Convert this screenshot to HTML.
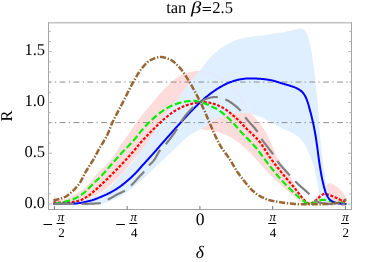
<!DOCTYPE html>
<html><head><meta charset="utf-8"><title>tan beta = 2.5</title>
<style>html,body{margin:0;padding:0;background:#fff;}body{width:374px;height:262px;overflow:hidden;font-family:"Liberation Serif",serif;}svg{display:block;will-change:transform;}</style></head>
<body>
<svg width="374" height="262" viewBox="0 0 374 262">
<rect width="374" height="262" fill="#fff"/>
<defs><clipPath id="c"><rect x="48.5" y="22.5" width="303" height="187"/></clipPath></defs>
<g clip-path="url(#c)" fill="none" stroke-linejoin="round">
<path d="M54.40,195.00 L55.13,196.35 L55.86,197.51 L56.59,198.38 L57.32,198.88 L58.05,199.27 L58.78,199.57 L59.51,199.76 L60.23,199.80 L60.96,199.76 L61.69,199.67 L62.42,199.55 L63.15,199.41 L63.88,199.25 L64.61,199.09 L65.34,198.92 L66.07,198.72 L66.80,198.49 L67.53,198.23 L68.26,197.94 L68.99,197.63 L69.72,197.29 L70.45,196.94 L71.17,196.57 L71.90,196.19 L72.63,195.80 L73.36,195.40 L74.09,195.00 L74.82,194.60 L75.55,194.19 L76.28,193.77 L77.01,193.33 L77.74,192.88 L78.47,192.41 L79.20,191.92 L79.93,191.42 L80.66,190.90 L81.38,190.36 L82.11,189.81 L82.84,189.25 L83.57,188.67 L84.30,188.08 L85.03,187.47 L85.76,186.84 L86.49,186.17 L87.22,185.46 L87.95,184.72 L88.68,183.96 L89.41,183.16 L90.14,182.34 L90.87,181.46 L91.60,180.50 L92.32,179.51 L93.05,178.51 L93.78,177.53 L94.51,176.59 L95.24,175.72 L95.97,174.89 L96.70,174.09 L97.43,173.32 L98.16,172.56 L98.89,171.81 L99.62,171.08 L100.35,170.35 L101.08,169.63 L101.81,168.94 L102.54,168.26 L103.26,167.60 L103.99,166.93 L104.72,166.26 L105.45,165.55 L106.18,164.81 L106.91,164.06 L107.64,163.29 L108.37,162.51 L109.10,161.71 L109.83,160.89 L110.56,160.04 L111.29,159.17 L112.02,158.27 L112.75,157.33 L113.48,156.35 L114.20,155.30 L114.93,154.18 L115.66,153.01 L116.39,151.82 L117.12,150.61 L117.85,149.40 L118.58,148.21 L119.31,147.05 L120.04,145.94 L120.77,144.87 L121.50,143.83 L122.23,142.80 L122.96,141.78 L123.69,140.77 L124.42,139.76 L125.14,138.76 L125.87,137.74 L126.60,136.71 L127.33,135.67 L128.06,134.63 L128.79,133.57 L129.52,132.51 L130.25,131.44 L130.98,130.37 L131.71,129.30 L132.44,128.23 L133.17,127.16 L133.90,126.09 L134.63,125.03 L135.35,123.98 L136.08,122.93 L136.81,121.89 L137.54,120.87 L138.27,119.86 L139.00,118.86 L139.73,117.88 L140.46,116.91 L141.19,115.97 L141.92,115.05 L142.65,114.15 L143.38,113.27 L144.11,112.41 L144.84,111.56 L145.57,110.73 L146.29,109.90 L147.02,109.07 L147.75,108.25 L148.48,107.42 L149.21,106.59 L149.94,105.74 L150.67,104.89 L151.40,104.02 L152.13,103.14 L152.86,102.24 L153.59,101.34 L154.32,100.44 L155.05,99.54 L155.78,98.64 L156.51,97.76 L157.23,96.89 L157.96,96.04 L158.69,95.21 L159.42,94.37 L160.15,93.55 L160.88,92.73 L161.61,91.92 L162.34,91.12 L163.07,90.33 L163.80,89.56 L164.53,88.79 L165.26,88.05 L165.99,87.31 L166.72,86.59 L167.45,85.87 L168.17,85.17 L168.90,84.46 L169.63,83.78 L170.36,83.10 L171.09,82.44 L171.82,81.80 L172.55,81.17 L173.28,80.57 L174.01,79.99 L174.74,79.42 L175.47,78.85 L176.20,78.29 L176.93,77.73 L177.66,77.19 L178.38,76.67 L179.11,76.17 L179.84,75.71 L180.57,75.29 L181.30,74.91 L182.03,74.59 L182.76,74.29 L183.49,74.02 L184.22,73.76 L184.95,73.52 L185.68,73.29 L186.41,73.08 L187.14,72.88 L187.87,72.69 L188.60,72.51 L189.32,72.35 L190.05,72.19 L190.78,72.03 L191.51,71.87 L192.24,71.71 L192.97,71.55 L193.70,71.41 L194.43,71.28 L195.16,71.16 L195.89,71.08 L196.62,71.02 L197.35,71.00 L198.08,71.01 L198.81,71.06 L199.54,71.14 L200.26,71.24 L200.99,71.36 L201.72,71.50 L202.45,71.65 L203.18,71.82 L203.91,72.00 L204.64,72.18 L205.37,72.37 L206.10,72.55 L206.83,72.73 L207.56,72.92 L208.29,73.13 L209.02,73.36 L209.75,73.61 L210.48,73.87 L211.20,74.14 L211.93,74.42 L212.66,74.71 L213.39,75.01 L214.12,75.31 L214.85,75.62 L215.58,75.93 L216.31,76.24 L217.04,76.55 L217.77,76.85 L218.50,77.16 L219.23,77.46 L219.96,77.76 L220.69,78.07 L221.42,78.39 L222.14,78.72 L222.87,79.07 L223.60,79.44 L224.33,79.82 L225.06,80.24 L225.79,80.68 L226.52,81.17 L227.25,81.70 L227.98,82.27 L228.71,82.88 L229.44,83.53 L230.17,84.20 L230.90,84.90 L231.63,85.62 L232.35,86.37 L233.08,87.16 L233.81,88.01 L234.54,88.90 L235.27,89.83 L236.00,90.79 L236.73,91.79 L237.46,92.80 L238.19,93.84 L238.92,94.88 L239.65,95.97 L240.38,97.13 L241.11,98.36 L241.84,99.63 L242.57,100.93 L243.29,102.25 L244.02,103.56 L244.75,104.86 L245.48,106.12 L246.21,107.33 L246.94,108.48 L247.67,109.55 L248.40,110.53 L249.13,111.44 L249.86,112.30 L250.59,113.12 L251.32,113.91 L252.05,114.68 L252.78,115.44 L253.51,116.21 L254.23,116.99 L254.96,117.79 L255.69,118.63 L256.42,119.51 L257.15,120.38 L257.88,121.26 L258.61,122.14 L259.34,123.03 L260.07,123.94 L260.80,124.87 L261.53,125.83 L262.26,126.82 L262.99,127.86 L263.72,128.94 L264.45,130.07 L265.17,131.28 L265.90,132.58 L266.63,133.95 L267.36,135.38 L268.09,136.86 L268.82,138.38 L269.55,139.92 L270.28,141.48 L271.01,143.03 L271.74,144.67 L272.47,146.41 L273.20,148.21 L273.93,150.01 L274.66,151.76 L275.38,153.43 L276.11,154.96 L276.84,156.32 L277.57,157.58 L278.30,158.77 L279.03,159.89 L279.76,160.97 L280.49,162.01 L281.22,163.04 L281.95,164.05 L282.68,165.06 L283.41,166.10 L284.14,167.16 L284.87,168.25 L285.60,169.33 L286.32,170.41 L287.05,171.48 L287.78,172.55 L288.51,173.64 L289.24,174.76 L289.97,175.91 L290.70,177.10 L291.43,178.35 L292.16,179.70 L292.89,181.14 L293.62,182.62 L294.35,184.11 L295.08,185.59 L295.81,187.03 L296.54,188.38 L297.26,189.63 L297.99,190.75 L298.72,191.82 L299.45,192.83 L300.18,193.79 L300.91,194.71 L301.64,195.58 L302.37,196.44 L303.10,197.34 L303.83,198.27 L304.56,199.15 L305.29,199.92 L306.02,200.54 L306.75,200.93 L307.48,201.10 L308.20,201.24 L308.93,201.35 L309.66,201.43 L310.39,201.49 L311.12,201.50 L311.85,201.36 L312.58,201.03 L313.31,200.56 L314.04,199.97 L314.77,199.30 L315.50,198.58 L316.23,197.86 L316.96,197.14 L317.69,196.29 L318.42,195.29 L319.14,194.20 L319.87,193.07 L320.60,191.94 L321.33,190.88 L322.06,189.92 L322.79,189.00 L323.52,188.06 L324.25,187.14 L324.98,186.28 L325.71,185.51 L326.44,184.87 L327.17,184.41 L327.90,183.99 L328.63,183.63 L329.35,183.38 L330.08,183.30 L330.81,183.38 L331.54,183.58 L332.27,183.88 L333.00,184.25 L333.73,184.69 L334.46,185.17 L335.19,185.67 L335.92,186.17 L336.65,186.67 L337.38,187.16 L338.11,187.71 L338.84,188.31 L339.57,188.96 L340.29,189.64 L341.02,190.37 L341.75,191.13 L342.48,191.95 L343.21,192.86 L343.94,193.85 L344.67,194.90 L345.40,196.00 L345.40,204.50 L344.67,204.50 L343.94,204.50 L343.21,204.50 L342.48,204.50 L341.75,204.50 L341.02,204.50 L340.29,204.50 L339.57,204.50 L338.84,204.50 L338.11,204.50 L337.38,204.50 L336.65,204.50 L335.92,204.50 L335.19,204.50 L334.46,204.50 L333.73,204.50 L333.00,204.50 L332.27,204.50 L331.54,204.50 L330.81,204.50 L330.08,204.50 L329.35,204.50 L328.63,204.50 L327.90,204.50 L327.17,204.50 L326.44,204.50 L325.71,204.50 L324.98,204.50 L324.25,204.50 L323.52,204.50 L322.79,204.50 L322.06,204.50 L321.33,204.50 L320.60,204.50 L319.87,204.50 L319.14,204.50 L318.42,204.50 L317.69,204.50 L316.96,204.50 L316.23,204.50 L315.50,204.50 L314.77,204.50 L314.04,204.50 L313.31,204.50 L312.58,204.50 L311.85,204.50 L311.12,204.50 L310.39,204.50 L309.66,204.49 L308.93,204.44 L308.20,204.35 L307.48,204.21 L306.75,204.04 L306.02,203.83 L305.29,203.61 L304.56,203.36 L303.83,203.11 L303.10,202.84 L302.37,202.57 L301.64,202.24 L300.91,201.84 L300.18,201.39 L299.45,200.89 L298.72,200.36 L297.99,199.80 L297.26,199.23 L296.54,198.65 L295.81,198.07 L295.08,197.51 L294.35,196.93 L293.62,196.34 L292.89,195.72 L292.16,195.09 L291.43,194.45 L290.70,193.79 L289.97,193.12 L289.24,192.45 L288.51,191.76 L287.78,191.08 L287.05,190.39 L286.32,189.71 L285.60,189.02 L284.87,188.35 L284.14,187.68 L283.41,187.02 L282.68,186.37 L281.95,185.73 L281.22,185.11 L280.49,184.49 L279.76,183.87 L279.03,183.24 L278.30,182.59 L277.57,181.93 L276.84,181.27 L276.11,180.60 L275.38,179.93 L274.66,179.25 L273.93,178.57 L273.20,177.87 L272.47,177.17 L271.74,176.46 L271.01,175.74 L270.28,175.00 L269.55,174.26 L268.82,173.50 L268.09,172.72 L267.36,171.91 L266.63,171.10 L265.90,170.27 L265.17,169.43 L264.45,168.59 L263.72,167.75 L262.99,166.91 L262.26,166.09 L261.53,165.27 L260.80,164.45 L260.07,163.62 L259.34,162.80 L258.61,161.98 L257.88,161.16 L257.15,160.34 L256.42,159.54 L255.69,158.74 L254.96,157.96 L254.23,157.19 L253.51,156.41 L252.78,155.64 L252.05,154.87 L251.32,154.11 L250.59,153.36 L249.86,152.62 L249.13,151.89 L248.40,151.17 L247.67,150.47 L246.94,149.79 L246.21,149.13 L245.48,148.48 L244.75,147.84 L244.02,147.20 L243.29,146.57 L242.57,145.95 L241.84,145.34 L241.11,144.74 L240.38,144.16 L239.65,143.58 L238.92,143.02 L238.19,142.47 L237.46,141.93 L236.73,141.41 L236.00,140.90 L235.27,140.41 L234.54,139.92 L233.81,139.43 L233.08,138.95 L232.35,138.48 L231.63,138.01 L230.90,137.55 L230.17,137.11 L229.44,136.68 L228.71,136.27 L227.98,135.88 L227.25,135.50 L226.52,135.15 L225.79,134.83 L225.06,134.52 L224.33,134.24 L223.60,133.97 L222.87,133.70 L222.14,133.45 L221.42,133.20 L220.69,132.96 L219.96,132.73 L219.23,132.51 L218.50,132.30 L217.77,132.09 L217.04,131.90 L216.31,131.71 L215.58,131.54 L214.85,131.37 L214.12,131.22 L213.39,131.07 L212.66,130.94 L211.93,130.82 L211.20,130.71 L210.48,130.61 L209.75,130.51 L209.02,130.43 L208.29,130.34 L207.56,130.26 L206.83,130.18 L206.10,130.10 L205.37,130.01 L204.64,129.92 L203.91,129.82 L203.18,129.71 L202.45,129.58 L201.72,129.44 L200.99,129.25 L200.26,129.01 L199.54,128.73 L198.81,128.45 L198.08,128.18 L197.35,127.92 L196.62,127.72 L195.89,127.57 L195.16,127.50 L194.43,127.50 L193.70,127.50 L192.97,127.51 L192.24,127.52 L191.51,127.53 L190.78,127.55 L190.05,127.56 L189.32,127.58 L188.60,127.60 L187.87,127.63 L187.14,127.65 L186.41,127.68 L185.68,127.71 L184.95,127.74 L184.22,127.77 L183.49,127.81 L182.76,127.85 L182.03,127.89 L181.30,127.93 L180.57,127.97 L179.84,128.01 L179.11,128.07 L178.38,128.16 L177.66,128.28 L176.93,128.42 L176.20,128.59 L175.47,128.77 L174.74,128.98 L174.01,129.21 L173.28,129.46 L172.55,129.73 L171.82,130.01 L171.09,130.31 L170.36,130.63 L169.63,130.95 L168.90,131.29 L168.17,131.65 L167.45,132.01 L166.72,132.38 L165.99,132.75 L165.26,133.14 L164.53,133.53 L163.80,133.92 L163.07,134.32 L162.34,134.72 L161.61,135.12 L160.88,135.52 L160.15,135.92 L159.42,136.32 L158.69,136.75 L157.96,137.20 L157.23,137.68 L156.51,138.18 L155.78,138.70 L155.05,139.23 L154.32,139.79 L153.59,140.37 L152.86,140.96 L152.13,141.56 L151.40,142.19 L150.67,142.82 L149.94,143.47 L149.21,144.13 L148.48,144.80 L147.75,145.48 L147.02,146.16 L146.29,146.86 L145.57,147.56 L144.84,148.26 L144.11,148.97 L143.38,149.69 L142.65,150.40 L141.92,151.12 L141.19,151.83 L140.46,152.55 L139.73,153.26 L139.00,154.00 L138.27,154.76 L137.54,155.55 L136.81,156.35 L136.08,157.17 L135.35,158.01 L134.63,158.87 L133.90,159.73 L133.17,160.61 L132.44,161.50 L131.71,162.39 L130.98,163.29 L130.25,164.19 L129.52,165.09 L128.79,165.99 L128.06,166.89 L127.33,167.78 L126.60,168.67 L125.87,169.54 L125.14,170.40 L124.42,171.25 L123.69,172.09 L122.96,172.91 L122.23,173.70 L121.50,174.48 L120.77,175.23 L120.04,175.96 L119.31,176.68 L118.58,177.39 L117.85,178.11 L117.12,178.82 L116.39,179.54 L115.66,180.25 L114.93,180.96 L114.20,181.66 L113.48,182.36 L112.75,183.05 L112.02,183.74 L111.29,184.42 L110.56,185.08 L109.83,185.74 L109.10,186.38 L108.37,187.01 L107.64,187.63 L106.91,188.23 L106.18,188.82 L105.45,189.39 L104.72,189.94 L103.99,190.47 L103.26,190.98 L102.54,191.47 L101.81,191.94 L101.08,192.39 L100.35,192.81 L99.62,193.21 L98.89,193.60 L98.16,193.98 L97.43,194.36 L96.70,194.74 L95.97,195.11 L95.24,195.47 L94.51,195.82 L93.78,196.17 L93.05,196.51 L92.32,196.84 L91.60,197.16 L90.87,197.48 L90.14,197.78 L89.41,198.08 L88.68,198.37 L87.95,198.65 L87.22,198.92 L86.49,199.18 L85.76,199.43 L85.03,199.67 L84.30,199.89 L83.57,200.11 L82.84,200.31 L82.11,200.51 L81.38,200.69 L80.66,200.86 L79.93,201.02 L79.20,201.17 L78.47,201.32 L77.74,201.47 L77.01,201.62 L76.28,201.77 L75.55,201.91 L74.82,202.06 L74.09,202.20 L73.36,202.34 L72.63,202.48 L71.90,202.62 L71.17,202.75 L70.45,202.88 L69.72,203.01 L68.99,203.13 L68.26,203.25 L67.53,203.36 L66.80,203.48 L66.07,203.58 L65.34,203.69 L64.61,203.78 L63.88,203.88 L63.15,203.96 L62.42,204.04 L61.69,204.12 L60.96,204.19 L60.23,204.25 L59.51,204.31 L58.78,204.36 L58.05,204.40 L57.32,204.44 L56.59,204.46 L55.86,204.48 L55.13,204.50 L54.40,204.50 Z" fill="#ffdcdc" stroke="none"/>
<path d="M54.40,201.50 L55.13,201.50 L55.86,201.49 L56.59,201.49 L57.32,201.48 L58.05,201.47 L58.78,201.46 L59.51,201.44 L60.23,201.43 L60.96,201.41 L61.69,201.39 L62.42,201.38 L63.15,201.35 L63.88,201.33 L64.61,201.31 L65.34,201.29 L66.07,201.26 L66.80,201.22 L67.53,201.18 L68.26,201.13 L68.99,201.08 L69.72,201.02 L70.45,200.95 L71.17,200.89 L71.90,200.82 L72.63,200.74 L73.36,200.67 L74.09,200.59 L74.82,200.52 L75.55,200.44 L76.28,200.36 L77.01,200.27 L77.74,200.18 L78.47,200.09 L79.20,199.99 L79.93,199.88 L80.66,199.77 L81.38,199.65 L82.11,199.53 L82.84,199.41 L83.57,199.27 L84.30,199.14 L85.03,198.99 L85.76,198.84 L86.49,198.68 L87.22,198.50 L87.95,198.31 L88.68,198.11 L89.41,197.90 L90.14,197.68 L90.87,197.46 L91.60,197.22 L92.32,196.97 L93.05,196.72 L93.78,196.45 L94.51,196.18 L95.24,195.91 L95.97,195.61 L96.70,195.29 L97.43,194.94 L98.16,194.58 L98.89,194.21 L99.62,193.82 L100.35,193.42 L101.08,193.02 L101.81,192.61 L102.54,192.20 L103.26,191.78 L103.99,191.36 L104.72,190.93 L105.45,190.48 L106.18,190.02 L106.91,189.53 L107.64,189.02 L108.37,188.49 L109.10,187.92 L109.83,187.30 L110.56,186.62 L111.29,185.89 L112.02,185.12 L112.75,184.33 L113.48,183.51 L114.20,182.70 L114.93,181.88 L115.66,181.08 L116.39,180.31 L117.12,179.56 L117.85,178.81 L118.58,178.07 L119.31,177.33 L120.04,176.58 L120.77,175.82 L121.50,175.05 L122.23,174.25 L122.96,173.43 L123.69,172.59 L124.42,171.74 L125.14,170.87 L125.87,170.00 L126.60,169.14 L127.33,168.28 L128.06,167.43 L128.79,166.60 L129.52,165.79 L130.25,164.98 L130.98,164.18 L131.71,163.38 L132.44,162.56 L133.17,161.73 L133.90,160.87 L134.63,159.97 L135.35,159.04 L136.08,158.03 L136.81,156.98 L137.54,155.90 L138.27,154.83 L139.00,153.78 L139.73,152.77 L140.46,151.77 L141.19,150.79 L141.92,149.81 L142.65,148.85 L143.38,147.88 L144.11,146.91 L144.84,145.94 L145.57,144.96 L146.29,143.97 L147.02,142.97 L147.75,141.96 L148.48,140.95 L149.21,139.95 L149.94,138.93 L150.67,137.91 L151.40,136.87 L152.13,135.82 L152.86,134.74 L153.59,133.64 L154.32,132.50 L155.05,131.30 L155.78,130.05 L156.51,128.76 L157.23,127.45 L157.96,126.14 L158.69,124.84 L159.42,123.57 L160.15,122.35 L160.88,121.18 L161.61,120.08 L162.34,119.00 L163.07,117.95 L163.80,116.93 L164.53,115.92 L165.26,114.93 L165.99,113.96 L166.72,112.99 L167.45,112.03 L168.17,111.08 L168.90,110.13 L169.63,109.18 L170.36,108.25 L171.09,107.34 L171.82,106.45 L172.55,105.56 L173.28,104.67 L174.01,103.78 L174.74,102.88 L175.47,101.97 L176.20,101.04 L176.93,100.10 L177.66,99.12 L178.38,98.13 L179.11,97.11 L179.84,96.08 L180.57,95.04 L181.30,94.00 L182.03,92.97 L182.76,91.95 L183.49,90.95 L184.22,89.97 L184.95,89.02 L185.68,88.07 L186.41,87.13 L187.14,86.21 L187.87,85.29 L188.60,84.37 L189.32,83.47 L190.05,82.57 L190.78,81.67 L191.51,80.78 L192.24,79.89 L192.97,79.00 L193.70,78.12 L194.43,77.23 L195.16,76.35 L195.89,75.46 L196.62,74.57 L197.35,73.68 L198.08,72.79 L198.81,71.89 L199.54,70.98 L200.26,70.07 L200.99,69.14 L201.72,68.18 L202.45,67.22 L203.18,66.25 L203.91,65.28 L204.64,64.31 L205.37,63.35 L206.10,62.40 L206.83,61.47 L207.56,60.57 L208.29,59.70 L209.02,58.86 L209.75,58.07 L210.48,57.31 L211.20,56.57 L211.93,55.85 L212.66,55.15 L213.39,54.46 L214.12,53.79 L214.85,53.14 L215.58,52.50 L216.31,51.88 L217.04,51.28 L217.77,50.69 L218.50,50.12 L219.23,49.57 L219.96,49.03 L220.69,48.51 L221.42,47.99 L222.14,47.49 L222.87,46.99 L223.60,46.51 L224.33,46.03 L225.06,45.57 L225.79,45.13 L226.52,44.69 L227.25,44.27 L227.98,43.87 L228.71,43.48 L229.44,43.11 L230.17,42.76 L230.90,42.42 L231.63,42.09 L232.35,41.77 L233.08,41.46 L233.81,41.15 L234.54,40.86 L235.27,40.57 L236.00,40.30 L236.73,40.04 L237.46,39.78 L238.19,39.54 L238.92,39.32 L239.65,39.11 L240.38,38.91 L241.11,38.72 L241.84,38.53 L242.57,38.36 L243.29,38.18 L244.02,38.02 L244.75,37.85 L245.48,37.70 L246.21,37.55 L246.94,37.40 L247.67,37.26 L248.40,37.13 L249.13,37.00 L249.86,36.87 L250.59,36.76 L251.32,36.64 L252.05,36.53 L252.78,36.43 L253.51,36.33 L254.23,36.25 L254.96,36.16 L255.69,36.09 L256.42,36.02 L257.15,35.95 L257.88,35.89 L258.61,35.83 L259.34,35.77 L260.07,35.71 L260.80,35.65 L261.53,35.58 L262.26,35.51 L262.99,35.43 L263.72,35.35 L264.45,35.26 L265.17,35.16 L265.90,35.05 L266.63,34.90 L267.36,34.73 L268.09,34.54 L268.82,34.36 L269.55,34.19 L270.28,34.05 L271.01,33.92 L271.74,33.81 L272.47,33.70 L273.20,33.59 L273.93,33.49 L274.66,33.39 L275.38,33.30 L276.11,33.21 L276.84,33.11 L277.57,33.02 L278.30,32.93 L279.03,32.83 L279.76,32.73 L280.49,32.63 L281.22,32.52 L281.95,32.41 L282.68,32.29 L283.41,32.16 L284.14,32.03 L284.87,31.89 L285.60,31.75 L286.32,31.60 L287.05,31.45 L287.78,31.30 L288.51,31.14 L289.24,30.98 L289.97,30.82 L290.70,30.65 L291.43,30.49 L292.16,30.32 L292.89,30.15 L293.62,29.98 L294.35,29.80 L295.08,29.63 L295.81,29.44 L296.54,29.20 L297.26,28.95 L297.99,28.71 L298.72,28.50 L299.45,28.36 L300.18,28.30 L300.91,28.36 L301.64,28.52 L302.37,28.78 L303.10,29.11 L303.83,29.50 L304.56,30.06 L305.29,31.04 L306.02,32.35 L306.75,33.91 L307.48,35.61 L308.20,37.46 L308.93,39.76 L309.66,42.50 L310.39,45.62 L311.12,49.45 L311.85,53.96 L312.58,58.82 L313.31,63.78 L314.04,69.09 L314.77,75.12 L315.50,82.80 L316.23,89.92 L316.96,95.99 L317.69,102.68 L318.42,112.10 L319.14,123.94 L319.87,133.63 L320.60,141.29 L321.33,148.12 L322.06,154.53 L322.79,160.55 L323.52,166.16 L324.25,171.34 L324.98,176.30 L325.71,180.94 L326.44,184.85 L327.17,187.83 L327.90,190.39 L328.63,192.60 L329.35,194.52 L330.08,196.18 L330.81,197.72 L331.54,199.12 L332.27,200.26 L333.00,201.00 L333.73,201.47 L334.46,201.87 L335.19,202.22 L335.92,202.51 L336.65,202.73 L337.38,202.90 L338.11,203.01 L338.84,203.10 L339.57,203.18 L340.29,203.25 L341.02,203.31 L341.75,203.37 L342.48,203.41 L343.21,203.45 L343.94,203.48 L344.67,203.49 L345.40,203.50 L345.40,204.50 L344.67,204.50 L343.94,204.50 L343.21,204.50 L342.48,204.50 L341.75,204.49 L341.02,204.49 L340.29,204.49 L339.57,204.48 L338.84,204.48 L338.11,204.47 L337.38,204.47 L336.65,204.46 L335.92,204.45 L335.19,204.44 L334.46,204.43 L333.73,204.42 L333.00,204.41 L332.27,204.40 L331.54,204.38 L330.81,204.37 L330.08,204.35 L329.35,204.33 L328.63,204.32 L327.90,204.30 L327.17,204.23 L326.44,204.10 L325.71,203.91 L324.98,203.67 L324.25,203.36 L323.52,203.01 L322.79,202.39 L322.06,201.33 L321.33,199.92 L320.60,198.26 L319.87,195.78 L319.14,192.43 L318.42,188.66 L317.69,184.90 L316.96,181.27 L316.23,177.33 L315.50,173.41 L314.77,169.88 L314.04,167.09 L313.31,164.83 L312.58,162.84 L311.85,160.94 L311.12,158.97 L310.39,156.98 L309.66,155.06 L308.93,153.26 L308.20,151.63 L307.48,150.05 L306.75,148.50 L306.02,147.02 L305.29,145.61 L304.56,144.30 L303.83,143.10 L303.10,142.03 L302.37,141.09 L301.64,140.22 L300.91,139.40 L300.18,138.63 L299.45,137.90 L298.72,137.22 L297.99,136.58 L297.26,135.98 L296.54,135.43 L295.81,134.90 L295.08,134.42 L294.35,133.97 L293.62,133.54 L292.89,133.14 L292.16,132.76 L291.43,132.40 L290.70,132.06 L289.97,131.73 L289.24,131.41 L288.51,131.09 L287.78,130.79 L287.05,130.48 L286.32,130.18 L285.60,129.87 L284.87,129.55 L284.14,129.23 L283.41,128.89 L282.68,128.54 L281.95,128.18 L281.22,127.81 L280.49,127.44 L279.76,127.07 L279.03,126.70 L278.30,126.33 L277.57,125.95 L276.84,125.58 L276.11,125.20 L275.38,124.82 L274.66,124.44 L273.93,124.06 L273.20,123.67 L272.47,123.29 L271.74,122.91 L271.01,122.53 L270.28,122.15 L269.55,121.76 L268.82,121.36 L268.09,120.94 L267.36,120.52 L266.63,120.09 L265.90,119.66 L265.17,119.23 L264.45,118.81 L263.72,118.40 L262.99,118.02 L262.26,117.65 L261.53,117.31 L260.80,117.00 L260.07,116.72 L259.34,116.47 L258.61,116.22 L257.88,115.96 L257.15,115.71 L256.42,115.45 L255.69,115.20 L254.96,114.96 L254.23,114.73 L253.51,114.50 L252.78,114.28 L252.05,114.08 L251.32,113.88 L250.59,113.71 L249.86,113.55 L249.13,113.40 L248.40,113.28 L247.67,113.18 L246.94,113.09 L246.21,113.04 L245.48,113.01 L244.75,113.00 L244.02,113.01 L243.29,113.02 L242.57,113.03 L241.84,113.05 L241.11,113.08 L240.38,113.11 L239.65,113.14 L238.92,113.18 L238.19,113.22 L237.46,113.27 L236.73,113.32 L236.00,113.37 L235.27,113.42 L234.54,113.48 L233.81,113.54 L233.08,113.60 L232.35,113.67 L231.63,113.74 L230.90,113.83 L230.17,113.94 L229.44,114.07 L228.71,114.23 L227.98,114.40 L227.25,114.59 L226.52,114.80 L225.79,115.02 L225.06,115.26 L224.33,115.51 L223.60,115.78 L222.87,116.05 L222.14,116.34 L221.42,116.64 L220.69,116.94 L219.96,117.25 L219.23,117.56 L218.50,117.88 L217.77,118.21 L217.04,118.53 L216.31,118.86 L215.58,119.19 L214.85,119.56 L214.12,119.97 L213.39,120.40 L212.66,120.87 L211.93,121.36 L211.20,121.87 L210.48,122.39 L209.75,122.93 L209.02,123.48 L208.29,124.03 L207.56,124.59 L206.83,125.14 L206.10,125.69 L205.37,126.23 L204.64,126.76 L203.91,127.27 L203.18,127.76 L202.45,128.22 L201.72,128.66 L200.99,129.08 L200.26,129.48 L199.54,129.86 L198.81,130.23 L198.08,130.59 L197.35,130.95 L196.62,131.31 L195.89,131.68 L195.16,132.05 L194.43,132.43 L193.70,132.82 L192.97,133.23 L192.24,133.67 L191.51,134.13 L190.78,134.61 L190.05,135.12 L189.32,135.65 L188.60,136.20 L187.87,136.77 L187.14,137.36 L186.41,137.96 L185.68,138.59 L184.95,139.22 L184.22,139.87 L183.49,140.53 L182.76,141.20 L182.03,141.88 L181.30,142.57 L180.57,143.27 L179.84,143.97 L179.11,144.68 L178.38,145.40 L177.66,146.11 L176.93,146.83 L176.20,147.55 L175.47,148.27 L174.74,148.98 L174.01,149.69 L173.28,150.40 L172.55,151.10 L171.82,151.80 L171.09,152.49 L170.36,153.17 L169.63,153.84 L168.90,154.51 L168.17,155.18 L167.45,155.86 L166.72,156.54 L165.99,157.22 L165.26,157.90 L164.53,158.58 L163.80,159.26 L163.07,159.94 L162.34,160.61 L161.61,161.29 L160.88,161.97 L160.15,162.65 L159.42,163.33 L158.69,164.02 L157.96,164.70 L157.23,165.38 L156.51,166.06 L155.78,166.74 L155.05,167.42 L154.32,168.10 L153.59,168.78 L152.86,169.45 L152.13,170.13 L151.40,170.80 L150.67,171.48 L149.94,172.15 L149.21,172.82 L148.48,173.50 L147.75,174.18 L147.02,174.87 L146.29,175.56 L145.57,176.25 L144.84,176.94 L144.11,177.63 L143.38,178.31 L142.65,179.00 L141.92,179.68 L141.19,180.36 L140.46,181.03 L139.73,181.69 L139.00,182.35 L138.27,183.00 L137.54,183.64 L136.81,184.27 L136.08,184.89 L135.35,185.49 L134.63,186.08 L133.90,186.66 L133.17,187.23 L132.44,187.81 L131.71,188.38 L130.98,188.95 L130.25,189.52 L129.52,190.08 L128.79,190.64 L128.06,191.19 L127.33,191.73 L126.60,192.27 L125.87,192.80 L125.14,193.32 L124.42,193.82 L123.69,194.32 L122.96,194.81 L122.23,195.28 L121.50,195.73 L120.77,196.18 L120.04,196.60 L119.31,197.01 L118.58,197.40 L117.85,197.77 L117.12,198.13 L116.39,198.47 L115.66,198.80 L114.93,199.12 L114.20,199.42 L113.48,199.71 L112.75,200.00 L112.02,200.27 L111.29,200.54 L110.56,200.80 L109.83,201.06 L109.10,201.32 L108.37,201.59 L107.64,201.86 L106.91,202.14 L106.18,202.40 L105.45,202.66 L104.72,202.91 L103.99,203.15 L103.26,203.36 L102.54,203.56 L101.81,203.72 L101.08,203.86 L100.35,203.96 L99.62,204.04 L98.89,204.10 L98.16,204.17 L97.43,204.23 L96.70,204.29 L95.97,204.34 L95.24,204.40 L94.51,204.45 L93.78,204.50 L93.05,204.55 L92.32,204.60 L91.60,204.64 L90.87,204.69 L90.14,204.73 L89.41,204.76 L88.68,204.80 L87.95,204.83 L87.22,204.86 L86.49,204.88 L85.76,204.91 L85.03,204.93 L84.30,204.95 L83.57,204.96 L82.84,204.98 L82.11,204.99 L81.38,204.99 L80.66,205.00 L79.93,205.00 L79.20,205.00 L78.47,205.00 L77.74,205.00 L77.01,205.00 L76.28,205.00 L75.55,205.00 L74.82,205.00 L74.09,205.00 L73.36,205.00 L72.63,205.00 L71.90,205.00 L71.17,205.00 L70.45,205.00 L69.72,205.00 L68.99,205.00 L68.26,205.00 L67.53,205.00 L66.80,205.00 L66.07,205.00 L65.34,205.00 L64.61,205.00 L63.88,205.00 L63.15,205.00 L62.42,205.00 L61.69,205.00 L60.96,205.00 L60.23,205.00 L59.51,205.00 L58.78,205.00 L58.05,205.00 L57.32,205.00 L56.59,205.00 L55.86,205.00 L55.13,205.00 L54.40,205.00 Z" fill="#dfefff" stroke="none"/>
<clipPath id="bb"><path d="M54.40,201.50 L55.13,201.50 L55.86,201.49 L56.59,201.49 L57.32,201.48 L58.05,201.47 L58.78,201.46 L59.51,201.44 L60.23,201.43 L60.96,201.41 L61.69,201.39 L62.42,201.38 L63.15,201.35 L63.88,201.33 L64.61,201.31 L65.34,201.29 L66.07,201.26 L66.80,201.22 L67.53,201.18 L68.26,201.13 L68.99,201.08 L69.72,201.02 L70.45,200.95 L71.17,200.89 L71.90,200.82 L72.63,200.74 L73.36,200.67 L74.09,200.59 L74.82,200.52 L75.55,200.44 L76.28,200.36 L77.01,200.27 L77.74,200.18 L78.47,200.09 L79.20,199.99 L79.93,199.88 L80.66,199.77 L81.38,199.65 L82.11,199.53 L82.84,199.41 L83.57,199.27 L84.30,199.14 L85.03,198.99 L85.76,198.84 L86.49,198.68 L87.22,198.50 L87.95,198.31 L88.68,198.11 L89.41,197.90 L90.14,197.68 L90.87,197.46 L91.60,197.22 L92.32,196.97 L93.05,196.72 L93.78,196.45 L94.51,196.18 L95.24,195.91 L95.97,195.61 L96.70,195.29 L97.43,194.94 L98.16,194.58 L98.89,194.21 L99.62,193.82 L100.35,193.42 L101.08,193.02 L101.81,192.61 L102.54,192.20 L103.26,191.78 L103.99,191.36 L104.72,190.93 L105.45,190.48 L106.18,190.02 L106.91,189.53 L107.64,189.02 L108.37,188.49 L109.10,187.92 L109.83,187.30 L110.56,186.62 L111.29,185.89 L112.02,185.12 L112.75,184.33 L113.48,183.51 L114.20,182.70 L114.93,181.88 L115.66,181.08 L116.39,180.31 L117.12,179.56 L117.85,178.81 L118.58,178.07 L119.31,177.33 L120.04,176.58 L120.77,175.82 L121.50,175.05 L122.23,174.25 L122.96,173.43 L123.69,172.59 L124.42,171.74 L125.14,170.87 L125.87,170.00 L126.60,169.14 L127.33,168.28 L128.06,167.43 L128.79,166.60 L129.52,165.79 L130.25,164.98 L130.98,164.18 L131.71,163.38 L132.44,162.56 L133.17,161.73 L133.90,160.87 L134.63,159.97 L135.35,159.04 L136.08,158.03 L136.81,156.98 L137.54,155.90 L138.27,154.83 L139.00,153.78 L139.73,152.77 L140.46,151.77 L141.19,150.79 L141.92,149.81 L142.65,148.85 L143.38,147.88 L144.11,146.91 L144.84,145.94 L145.57,144.96 L146.29,143.97 L147.02,142.97 L147.75,141.96 L148.48,140.95 L149.21,139.95 L149.94,138.93 L150.67,137.91 L151.40,136.87 L152.13,135.82 L152.86,134.74 L153.59,133.64 L154.32,132.50 L155.05,131.30 L155.78,130.05 L156.51,128.76 L157.23,127.45 L157.96,126.14 L158.69,124.84 L159.42,123.57 L160.15,122.35 L160.88,121.18 L161.61,120.08 L162.34,119.00 L163.07,117.95 L163.80,116.93 L164.53,115.92 L165.26,114.93 L165.99,113.96 L166.72,112.99 L167.45,112.03 L168.17,111.08 L168.90,110.13 L169.63,109.18 L170.36,108.25 L171.09,107.34 L171.82,106.45 L172.55,105.56 L173.28,104.67 L174.01,103.78 L174.74,102.88 L175.47,101.97 L176.20,101.04 L176.93,100.10 L177.66,99.12 L178.38,98.13 L179.11,97.11 L179.84,96.08 L180.57,95.04 L181.30,94.00 L182.03,92.97 L182.76,91.95 L183.49,90.95 L184.22,89.97 L184.95,89.02 L185.68,88.07 L186.41,87.13 L187.14,86.21 L187.87,85.29 L188.60,84.37 L189.32,83.47 L190.05,82.57 L190.78,81.67 L191.51,80.78 L192.24,79.89 L192.97,79.00 L193.70,78.12 L194.43,77.23 L195.16,76.35 L195.89,75.46 L196.62,74.57 L197.35,73.68 L198.08,72.79 L198.81,71.89 L199.54,70.98 L200.26,70.07 L200.99,69.14 L201.72,68.18 L202.45,67.22 L203.18,66.25 L203.91,65.28 L204.64,64.31 L205.37,63.35 L206.10,62.40 L206.83,61.47 L207.56,60.57 L208.29,59.70 L209.02,58.86 L209.75,58.07 L210.48,57.31 L211.20,56.57 L211.93,55.85 L212.66,55.15 L213.39,54.46 L214.12,53.79 L214.85,53.14 L215.58,52.50 L216.31,51.88 L217.04,51.28 L217.77,50.69 L218.50,50.12 L219.23,49.57 L219.96,49.03 L220.69,48.51 L221.42,47.99 L222.14,47.49 L222.87,46.99 L223.60,46.51 L224.33,46.03 L225.06,45.57 L225.79,45.13 L226.52,44.69 L227.25,44.27 L227.98,43.87 L228.71,43.48 L229.44,43.11 L230.17,42.76 L230.90,42.42 L231.63,42.09 L232.35,41.77 L233.08,41.46 L233.81,41.15 L234.54,40.86 L235.27,40.57 L236.00,40.30 L236.73,40.04 L237.46,39.78 L238.19,39.54 L238.92,39.32 L239.65,39.11 L240.38,38.91 L241.11,38.72 L241.84,38.53 L242.57,38.36 L243.29,38.18 L244.02,38.02 L244.75,37.85 L245.48,37.70 L246.21,37.55 L246.94,37.40 L247.67,37.26 L248.40,37.13 L249.13,37.00 L249.86,36.87 L250.59,36.76 L251.32,36.64 L252.05,36.53 L252.78,36.43 L253.51,36.33 L254.23,36.25 L254.96,36.16 L255.69,36.09 L256.42,36.02 L257.15,35.95 L257.88,35.89 L258.61,35.83 L259.34,35.77 L260.07,35.71 L260.80,35.65 L261.53,35.58 L262.26,35.51 L262.99,35.43 L263.72,35.35 L264.45,35.26 L265.17,35.16 L265.90,35.05 L266.63,34.90 L267.36,34.73 L268.09,34.54 L268.82,34.36 L269.55,34.19 L270.28,34.05 L271.01,33.92 L271.74,33.81 L272.47,33.70 L273.20,33.59 L273.93,33.49 L274.66,33.39 L275.38,33.30 L276.11,33.21 L276.84,33.11 L277.57,33.02 L278.30,32.93 L279.03,32.83 L279.76,32.73 L280.49,32.63 L281.22,32.52 L281.95,32.41 L282.68,32.29 L283.41,32.16 L284.14,32.03 L284.87,31.89 L285.60,31.75 L286.32,31.60 L287.05,31.45 L287.78,31.30 L288.51,31.14 L289.24,30.98 L289.97,30.82 L290.70,30.65 L291.43,30.49 L292.16,30.32 L292.89,30.15 L293.62,29.98 L294.35,29.80 L295.08,29.63 L295.81,29.44 L296.54,29.20 L297.26,28.95 L297.99,28.71 L298.72,28.50 L299.45,28.36 L300.18,28.30 L300.91,28.36 L301.64,28.52 L302.37,28.78 L303.10,29.11 L303.83,29.50 L304.56,30.06 L305.29,31.04 L306.02,32.35 L306.75,33.91 L307.48,35.61 L308.20,37.46 L308.93,39.76 L309.66,42.50 L310.39,45.62 L311.12,49.45 L311.85,53.96 L312.58,58.82 L313.31,63.78 L314.04,69.09 L314.77,75.12 L315.50,82.80 L316.23,89.92 L316.96,95.99 L317.69,102.68 L318.42,112.10 L319.14,123.94 L319.87,133.63 L320.60,141.29 L321.33,148.12 L322.06,154.53 L322.79,160.55 L323.52,166.16 L324.25,171.34 L324.98,176.30 L325.71,180.94 L326.44,184.85 L327.17,187.83 L327.90,190.39 L328.63,192.60 L329.35,194.52 L330.08,196.18 L330.81,197.72 L331.54,199.12 L332.27,200.26 L333.00,201.00 L333.73,201.47 L334.46,201.87 L335.19,202.22 L335.92,202.51 L336.65,202.73 L337.38,202.90 L338.11,203.01 L338.84,203.10 L339.57,203.18 L340.29,203.25 L341.02,203.31 L341.75,203.37 L342.48,203.41 L343.21,203.45 L343.94,203.48 L344.67,203.49 L345.40,203.50 L345.40,204.50 L344.67,204.50 L343.94,204.50 L343.21,204.50 L342.48,204.50 L341.75,204.49 L341.02,204.49 L340.29,204.49 L339.57,204.48 L338.84,204.48 L338.11,204.47 L337.38,204.47 L336.65,204.46 L335.92,204.45 L335.19,204.44 L334.46,204.43 L333.73,204.42 L333.00,204.41 L332.27,204.40 L331.54,204.38 L330.81,204.37 L330.08,204.35 L329.35,204.33 L328.63,204.32 L327.90,204.30 L327.17,204.23 L326.44,204.10 L325.71,203.91 L324.98,203.67 L324.25,203.36 L323.52,203.01 L322.79,202.39 L322.06,201.33 L321.33,199.92 L320.60,198.26 L319.87,195.78 L319.14,192.43 L318.42,188.66 L317.69,184.90 L316.96,181.27 L316.23,177.33 L315.50,173.41 L314.77,169.88 L314.04,167.09 L313.31,164.83 L312.58,162.84 L311.85,160.94 L311.12,158.97 L310.39,156.98 L309.66,155.06 L308.93,153.26 L308.20,151.63 L307.48,150.05 L306.75,148.50 L306.02,147.02 L305.29,145.61 L304.56,144.30 L303.83,143.10 L303.10,142.03 L302.37,141.09 L301.64,140.22 L300.91,139.40 L300.18,138.63 L299.45,137.90 L298.72,137.22 L297.99,136.58 L297.26,135.98 L296.54,135.43 L295.81,134.90 L295.08,134.42 L294.35,133.97 L293.62,133.54 L292.89,133.14 L292.16,132.76 L291.43,132.40 L290.70,132.06 L289.97,131.73 L289.24,131.41 L288.51,131.09 L287.78,130.79 L287.05,130.48 L286.32,130.18 L285.60,129.87 L284.87,129.55 L284.14,129.23 L283.41,128.89 L282.68,128.54 L281.95,128.18 L281.22,127.81 L280.49,127.44 L279.76,127.07 L279.03,126.70 L278.30,126.33 L277.57,125.95 L276.84,125.58 L276.11,125.20 L275.38,124.82 L274.66,124.44 L273.93,124.06 L273.20,123.67 L272.47,123.29 L271.74,122.91 L271.01,122.53 L270.28,122.15 L269.55,121.76 L268.82,121.36 L268.09,120.94 L267.36,120.52 L266.63,120.09 L265.90,119.66 L265.17,119.23 L264.45,118.81 L263.72,118.40 L262.99,118.02 L262.26,117.65 L261.53,117.31 L260.80,117.00 L260.07,116.72 L259.34,116.47 L258.61,116.22 L257.88,115.96 L257.15,115.71 L256.42,115.45 L255.69,115.20 L254.96,114.96 L254.23,114.73 L253.51,114.50 L252.78,114.28 L252.05,114.08 L251.32,113.88 L250.59,113.71 L249.86,113.55 L249.13,113.40 L248.40,113.28 L247.67,113.18 L246.94,113.09 L246.21,113.04 L245.48,113.01 L244.75,113.00 L244.02,113.01 L243.29,113.02 L242.57,113.03 L241.84,113.05 L241.11,113.08 L240.38,113.11 L239.65,113.14 L238.92,113.18 L238.19,113.22 L237.46,113.27 L236.73,113.32 L236.00,113.37 L235.27,113.42 L234.54,113.48 L233.81,113.54 L233.08,113.60 L232.35,113.67 L231.63,113.74 L230.90,113.83 L230.17,113.94 L229.44,114.07 L228.71,114.23 L227.98,114.40 L227.25,114.59 L226.52,114.80 L225.79,115.02 L225.06,115.26 L224.33,115.51 L223.60,115.78 L222.87,116.05 L222.14,116.34 L221.42,116.64 L220.69,116.94 L219.96,117.25 L219.23,117.56 L218.50,117.88 L217.77,118.21 L217.04,118.53 L216.31,118.86 L215.58,119.19 L214.85,119.56 L214.12,119.97 L213.39,120.40 L212.66,120.87 L211.93,121.36 L211.20,121.87 L210.48,122.39 L209.75,122.93 L209.02,123.48 L208.29,124.03 L207.56,124.59 L206.83,125.14 L206.10,125.69 L205.37,126.23 L204.64,126.76 L203.91,127.27 L203.18,127.76 L202.45,128.22 L201.72,128.66 L200.99,129.08 L200.26,129.48 L199.54,129.86 L198.81,130.23 L198.08,130.59 L197.35,130.95 L196.62,131.31 L195.89,131.68 L195.16,132.05 L194.43,132.43 L193.70,132.82 L192.97,133.23 L192.24,133.67 L191.51,134.13 L190.78,134.61 L190.05,135.12 L189.32,135.65 L188.60,136.20 L187.87,136.77 L187.14,137.36 L186.41,137.96 L185.68,138.59 L184.95,139.22 L184.22,139.87 L183.49,140.53 L182.76,141.20 L182.03,141.88 L181.30,142.57 L180.57,143.27 L179.84,143.97 L179.11,144.68 L178.38,145.40 L177.66,146.11 L176.93,146.83 L176.20,147.55 L175.47,148.27 L174.74,148.98 L174.01,149.69 L173.28,150.40 L172.55,151.10 L171.82,151.80 L171.09,152.49 L170.36,153.17 L169.63,153.84 L168.90,154.51 L168.17,155.18 L167.45,155.86 L166.72,156.54 L165.99,157.22 L165.26,157.90 L164.53,158.58 L163.80,159.26 L163.07,159.94 L162.34,160.61 L161.61,161.29 L160.88,161.97 L160.15,162.65 L159.42,163.33 L158.69,164.02 L157.96,164.70 L157.23,165.38 L156.51,166.06 L155.78,166.74 L155.05,167.42 L154.32,168.10 L153.59,168.78 L152.86,169.45 L152.13,170.13 L151.40,170.80 L150.67,171.48 L149.94,172.15 L149.21,172.82 L148.48,173.50 L147.75,174.18 L147.02,174.87 L146.29,175.56 L145.57,176.25 L144.84,176.94 L144.11,177.63 L143.38,178.31 L142.65,179.00 L141.92,179.68 L141.19,180.36 L140.46,181.03 L139.73,181.69 L139.00,182.35 L138.27,183.00 L137.54,183.64 L136.81,184.27 L136.08,184.89 L135.35,185.49 L134.63,186.08 L133.90,186.66 L133.17,187.23 L132.44,187.81 L131.71,188.38 L130.98,188.95 L130.25,189.52 L129.52,190.08 L128.79,190.64 L128.06,191.19 L127.33,191.73 L126.60,192.27 L125.87,192.80 L125.14,193.32 L124.42,193.82 L123.69,194.32 L122.96,194.81 L122.23,195.28 L121.50,195.73 L120.77,196.18 L120.04,196.60 L119.31,197.01 L118.58,197.40 L117.85,197.77 L117.12,198.13 L116.39,198.47 L115.66,198.80 L114.93,199.12 L114.20,199.42 L113.48,199.71 L112.75,200.00 L112.02,200.27 L111.29,200.54 L110.56,200.80 L109.83,201.06 L109.10,201.32 L108.37,201.59 L107.64,201.86 L106.91,202.14 L106.18,202.40 L105.45,202.66 L104.72,202.91 L103.99,203.15 L103.26,203.36 L102.54,203.56 L101.81,203.72 L101.08,203.86 L100.35,203.96 L99.62,204.04 L98.89,204.10 L98.16,204.17 L97.43,204.23 L96.70,204.29 L95.97,204.34 L95.24,204.40 L94.51,204.45 L93.78,204.50 L93.05,204.55 L92.32,204.60 L91.60,204.64 L90.87,204.69 L90.14,204.73 L89.41,204.76 L88.68,204.80 L87.95,204.83 L87.22,204.86 L86.49,204.88 L85.76,204.91 L85.03,204.93 L84.30,204.95 L83.57,204.96 L82.84,204.98 L82.11,204.99 L81.38,204.99 L80.66,205.00 L79.93,205.00 L79.20,205.00 L78.47,205.00 L77.74,205.00 L77.01,205.00 L76.28,205.00 L75.55,205.00 L74.82,205.00 L74.09,205.00 L73.36,205.00 L72.63,205.00 L71.90,205.00 L71.17,205.00 L70.45,205.00 L69.72,205.00 L68.99,205.00 L68.26,205.00 L67.53,205.00 L66.80,205.00 L66.07,205.00 L65.34,205.00 L64.61,205.00 L63.88,205.00 L63.15,205.00 L62.42,205.00 L61.69,205.00 L60.96,205.00 L60.23,205.00 L59.51,205.00 L58.78,205.00 L58.05,205.00 L57.32,205.00 L56.59,205.00 L55.86,205.00 L55.13,205.00 L54.40,205.00 Z"/></clipPath>
<path d="M196.62,71.02 L197.35,71.00 L198.08,71.01 L198.81,71.06 L199.54,71.14 L200.26,71.24 L200.99,71.36 L201.72,71.50 L202.45,71.65 L203.18,71.82 L203.91,72.00 L204.64,72.18 L205.37,72.37 L206.10,72.55 L206.83,72.73 L207.56,72.92 L208.29,73.13 L209.02,73.36 L209.75,73.61 L210.48,73.87 L211.20,74.14 L211.93,74.42 L212.66,74.71 L213.39,75.01 L214.12,75.31 L214.85,75.62 L215.58,75.93 L216.31,76.24 L217.04,76.55 L217.77,76.85 L218.50,77.16 L219.23,77.46 L219.96,77.76 L220.69,78.07 L221.42,78.39 L222.14,78.72 L222.87,79.07 L223.60,79.44 L224.33,79.82 L225.06,80.24 L225.79,80.68 L226.52,81.17 L227.25,81.70 L227.98,82.27 L228.71,82.88 L229.44,83.53 L230.17,84.20 L230.90,84.90 L231.63,85.62 L232.35,86.37 L233.08,87.16 L233.81,88.01 L234.54,88.90 L235.27,89.83 L236.00,90.79 L236.73,91.79 L237.46,92.80 L238.19,93.84 L238.92,94.88 L239.65,95.97 L240.38,97.13 L241.11,98.36 L241.84,99.63 L242.57,100.93 L243.29,102.25 L244.02,103.56 L244.75,104.86 L245.48,106.12 L246.21,107.33 L246.94,108.48 L247.67,109.55 L248.40,110.53 L249.13,111.44 L249.86,112.30 L250.59,113.12 L251.32,113.91 L252.05,114.68 L252.78,115.44 L253.51,116.21 L254.23,116.99 L254.96,117.79 L255.69,118.63 L256.42,119.51 L257.15,120.38 L257.88,121.26 L258.61,122.14 L259.34,123.03 L260.07,123.94 L260.80,124.87 L261.53,125.83" stroke="#ffd8dc" stroke-opacity="0.3" stroke-width="0.9" clip-path="url(#bb)"/>
<path d="M48.5,82.05 H351.5" stroke="#8c8c8c" stroke-width="1" stroke-dasharray="5.8 3.3 1.4 3.37" stroke-dashoffset="2.7"/>
<path d="M48.5,122.6 H351.5" stroke="#8c8c8c" stroke-width="1" stroke-dasharray="5.8 3.3 1.4 3.37" stroke-dashoffset="2.7"/>
<path d="M53.40,202.30 L53.99,202.35 L54.57,202.41 L55.16,202.46 L55.74,202.51 L56.33,202.55 L56.91,202.58 L57.50,202.59 L58.08,202.60 L58.67,202.60 L59.25,202.60 L59.84,202.60 L60.42,202.60 L61.01,202.60 L61.59,202.60 L62.18,202.60 L62.76,202.60 L63.35,202.60 L63.93,202.60 L64.52,202.60 L65.10,202.60 L65.69,202.59 L66.27,202.58 L66.86,202.55 L67.44,202.52 L68.03,202.47 L68.61,202.43 L69.20,202.37 L69.78,202.31 L70.37,202.24 L70.96,202.17 L71.54,202.10 L72.13,202.02 L72.71,201.93 L73.30,201.85 L73.88,201.77 L74.47,201.68 L75.05,201.59 L75.64,201.50 L76.22,201.39 L76.81,201.27 L77.39,201.14 L77.98,200.99 L78.56,200.83 L79.15,200.67 L79.73,200.49 L80.32,200.29 L80.90,200.07 L81.49,199.83 L82.07,199.56 L82.66,199.27 L83.24,198.96 L83.83,198.63 L84.41,198.29 L85.00,197.93 L85.58,197.57 L86.17,197.19 L86.75,196.81 L87.34,196.43 L87.93,196.05 L88.51,195.66 L89.10,195.24 L89.68,194.81 L90.27,194.36 L90.85,193.89 L91.44,193.42 L92.02,192.93 L92.61,192.44 L93.19,191.94 L93.78,191.44 L94.36,190.95 L94.95,190.45 L95.53,189.94 L96.12,189.42 L96.70,188.90 L97.29,188.36 L97.87,187.83 L98.46,187.29 L99.04,186.75 L99.63,186.20 L100.21,185.65 L100.80,185.11 L101.38,184.56 L101.97,184.01 L102.55,183.45 L103.14,182.89 L103.72,182.33 L104.31,181.77 L104.89,181.21 L105.48,180.64 L106.07,180.07 L106.65,179.50 L107.24,178.93 L107.82,178.35 L108.41,177.77 L108.99,177.20 L109.58,176.62 L110.16,176.03 L110.75,175.45 L111.33,174.87 L111.92,174.28 L112.50,173.70 L113.09,173.11 L113.67,172.52 L114.26,171.93 L114.84,171.33 L115.43,170.74 L116.01,170.14 L116.60,169.54 L117.18,168.94 L117.77,168.34 L118.35,167.73 L118.94,167.13 L119.52,166.52 L120.11,165.90 L120.69,165.29 L121.28,164.67 L121.86,164.05 L122.45,163.43 L123.04,162.80 L123.62,162.17 L124.21,161.54 L124.79,160.91 L125.38,160.27 L125.96,159.63 L126.55,158.99 L127.13,158.35 L127.72,157.71 L128.30,157.06 L128.89,156.41 L129.47,155.75 L130.06,155.10 L130.64,154.44 L131.23,153.78 L131.81,153.12 L132.40,152.46 L132.98,151.79 L133.57,151.12 L134.15,150.44 L134.74,149.75 L135.32,149.05 L135.91,148.35 L136.49,147.65 L137.08,146.95 L137.66,146.24 L138.25,145.54 L138.83,144.84 L139.42,144.14 L140.01,143.44 L140.59,142.75 L141.18,142.07 L141.76,141.40 L142.35,140.73 L142.93,140.08 L143.52,139.43 L144.10,138.79 L144.69,138.16 L145.27,137.53 L145.86,136.91 L146.44,136.29 L147.03,135.67 L147.61,135.06 L148.20,134.46 L148.78,133.85 L149.37,133.26 L149.95,132.66 L150.54,132.07 L151.12,131.48 L151.71,130.89 L152.29,130.30 L152.88,129.72 L153.46,129.14 L154.05,128.56 L154.63,127.99 L155.22,127.42 L155.80,126.85 L156.39,126.29 L156.98,125.72 L157.56,125.17 L158.15,124.61 L158.73,124.06 L159.32,123.51 L159.90,122.96 L160.49,122.42 L161.07,121.88 L161.66,121.34 L162.24,120.80 L162.83,120.26 L163.41,119.73 L164.00,119.21 L164.58,118.69 L165.17,118.19 L165.75,117.70 L166.34,117.23 L166.92,116.75 L167.51,116.28 L168.09,115.81 L168.68,115.34 L169.26,114.88 L169.85,114.42 L170.43,113.97 L171.02,113.52 L171.60,113.09 L172.19,112.66 L172.77,112.25 L173.36,111.85 L173.95,111.45 L174.53,111.08 L175.12,110.72 L175.70,110.37 L176.29,110.04 L176.87,109.72 L177.46,109.40 L178.04,109.08 L178.63,108.77 L179.21,108.47 L179.80,108.18 L180.38,107.88 L180.97,107.60 L181.55,107.32 L182.14,107.05 L182.72,106.79 L183.31,106.53 L183.89,106.28 L184.48,106.04 L185.06,105.81 L185.65,105.58 L186.23,105.36 L186.82,105.16 L187.40,104.96 L187.99,104.77 L188.57,104.59 L189.16,104.41 L189.74,104.25 L190.33,104.10 L190.92,103.95 L191.50,103.81 L192.09,103.67 L192.67,103.54 L193.26,103.41 L193.84,103.28 L194.43,103.15 L195.01,103.01 L195.60,102.86 L196.18,102.71 L196.77,102.56 L197.35,102.42 L197.94,102.29 L198.52,102.18 L199.11,102.09 L199.69,102.03 L200.28,102.00 L200.86,102.00 L201.45,102.01 L202.03,102.03 L202.62,102.06 L203.20,102.09 L203.79,102.13 L204.37,102.18 L204.96,102.23 L205.54,102.28 L206.13,102.34 L206.71,102.40 L207.30,102.47 L207.88,102.54 L208.47,102.61 L209.06,102.68 L209.64,102.76 L210.23,102.86 L210.81,102.97 L211.40,103.10 L211.98,103.24 L212.57,103.40 L213.15,103.57 L213.74,103.76 L214.32,103.96 L214.91,104.17 L215.49,104.39 L216.08,104.62 L216.66,104.85 L217.25,105.10 L217.83,105.35 L218.42,105.61 L219.00,105.88 L219.59,106.15 L220.17,106.42 L220.76,106.70 L221.34,106.98 L221.93,107.26 L222.51,107.56 L223.10,107.88 L223.68,108.21 L224.27,108.57 L224.85,108.94 L225.44,109.33 L226.03,109.73 L226.61,110.15 L227.20,110.58 L227.78,111.02 L228.37,111.48 L228.95,111.94 L229.54,112.41 L230.12,112.89 L230.71,113.37 L231.29,113.86 L231.88,114.35 L232.46,114.85 L233.05,115.35 L233.63,115.85 L234.22,116.35 L234.80,116.85 L235.39,117.36 L235.97,117.89 L236.56,118.43 L237.14,118.99 L237.73,119.56 L238.31,120.13 L238.90,120.72 L239.48,121.31 L240.07,121.91 L240.65,122.52 L241.24,123.12 L241.82,123.74 L242.41,124.35 L243.00,124.96 L243.58,125.58 L244.17,126.19 L244.75,126.80 L245.34,127.41 L245.92,128.01 L246.51,128.60 L247.09,129.19 L247.68,129.77 L248.26,130.34 L248.85,130.90 L249.43,131.45 L250.02,132.00 L250.60,132.54 L251.19,133.09 L251.77,133.63 L252.36,134.18 L252.94,134.73 L253.53,135.28 L254.11,135.84 L254.70,136.41 L255.28,136.98 L255.87,137.57 L256.45,138.17 L257.04,138.79 L257.62,139.42 L258.21,140.07 L258.79,140.74 L259.38,141.43 L259.97,142.15 L260.55,142.91 L261.14,143.72 L261.72,144.55 L262.31,145.42 L262.89,146.31 L263.48,147.23 L264.06,148.16 L264.65,149.11 L265.23,150.06 L265.82,151.01 L266.40,151.97 L266.99,152.91 L267.57,153.85 L268.16,154.77 L268.74,155.66 L269.33,156.54 L269.91,157.38 L270.50,158.19 L271.08,159.00 L271.67,159.80 L272.25,160.60 L272.84,161.38 L273.42,162.16 L274.01,162.93 L274.59,163.70 L275.18,164.46 L275.76,165.22 L276.35,165.97 L276.94,166.71 L277.52,167.46 L278.11,168.20 L278.69,168.93 L279.28,169.67 L279.86,170.40 L280.45,171.13 L281.03,171.85 L281.62,172.58 L282.20,173.31 L282.79,174.03 L283.37,174.75 L283.96,175.46 L284.54,176.17 L285.13,176.87 L285.71,177.57 L286.30,178.26 L286.88,178.95 L287.47,179.64 L288.05,180.33 L288.64,181.01 L289.22,181.69 L289.81,182.38 L290.39,183.06 L290.98,183.75 L291.56,184.43 L292.15,185.13 L292.73,185.82 L293.32,186.52 L293.91,187.22 L294.49,187.93 L295.08,188.65 L295.66,189.37 L296.25,190.11 L296.83,190.87 L297.42,191.63 L298.00,192.39 L298.59,193.16 L299.17,193.93 L299.76,194.69 L300.34,195.44 L300.93,196.18 L301.51,196.90 L302.10,197.60 L302.68,198.28 L303.27,198.96 L303.85,199.65 L304.44,200.33 L305.02,200.97 L305.61,201.56 L306.19,202.07 L306.78,202.50 L307.36,202.93 L307.95,203.33 L308.53,203.63 L309.12,203.79 L309.70,203.78 L310.29,203.66 L310.87,203.48 L311.46,203.25 L312.05,203.00 L312.63,202.74 L313.22,202.43 L313.80,202.04 L314.39,201.60 L314.97,201.14 L315.56,200.66 L316.14,200.19 L316.73,199.67 L317.31,199.12 L317.90,198.54 L318.48,197.95 L319.07,197.38 L319.65,196.83 L320.24,196.34 L320.82,195.92 L321.41,195.49 L321.99,195.05 L322.58,194.64 L323.16,194.28 L323.75,194.00 L324.33,193.83 L324.92,193.81 L325.50,193.86 L326.09,193.98 L326.67,194.14 L327.26,194.34 L327.84,194.57 L328.43,194.80 L329.02,195.03 L329.60,195.26 L330.19,195.46 L330.77,195.66 L331.36,195.87 L331.94,196.08 L332.53,196.30 L333.11,196.52 L333.70,196.75 L334.28,196.98 L334.87,197.22 L335.45,197.46 L336.04,197.71 L336.62,197.97 L337.21,198.23 L337.79,198.52 L338.38,198.83 L338.96,199.15 L339.55,199.47 L340.13,199.78 L340.72,200.09 L341.30,200.38 L341.89,200.65 L342.47,200.90 L343.06,201.14 L343.64,201.37 L344.23,201.59 L344.81,201.80 L345.40,202.00" stroke="#ff0000" stroke-width="2.2" stroke-dasharray="2.9 1.7"/>
<path d="M54.40,203.80 L54.98,203.71 L55.57,203.61 L56.15,203.51 L56.73,203.41 L57.32,203.31 L57.90,203.20 L58.48,203.09 L59.07,202.98 L59.65,202.87 L60.23,202.75 L60.81,202.64 L61.40,202.52 L61.98,202.40 L62.56,202.27 L63.15,202.15 L63.73,202.01 L64.31,201.87 L64.90,201.73 L65.48,201.58 L66.06,201.42 L66.65,201.26 L67.23,201.10 L67.81,200.94 L68.40,200.77 L68.98,200.59 L69.56,200.41 L70.15,200.22 L70.73,200.03 L71.31,199.83 L71.89,199.63 L72.48,199.42 L73.06,199.19 L73.64,198.97 L74.23,198.73 L74.81,198.48 L75.39,198.22 L75.98,197.95 L76.56,197.66 L77.14,197.36 L77.73,197.04 L78.31,196.70 L78.89,196.35 L79.48,195.99 L80.06,195.62 L80.64,195.23 L81.23,194.83 L81.81,194.42 L82.39,194.00 L82.98,193.57 L83.56,193.13 L84.14,192.68 L84.72,192.22 L85.31,191.75 L85.89,191.23 L86.47,190.67 L87.06,190.09 L87.64,189.48 L88.22,188.86 L88.81,188.24 L89.39,187.62 L89.97,187.03 L90.56,186.44 L91.14,185.86 L91.72,185.27 L92.31,184.68 L92.89,184.09 L93.47,183.51 L94.06,182.93 L94.64,182.35 L95.22,181.79 L95.80,181.23 L96.39,180.68 L96.97,180.14 L97.55,179.61 L98.14,179.07 L98.72,178.53 L99.30,177.98 L99.89,177.41 L100.47,176.83 L101.05,176.24 L101.64,175.63 L102.22,175.00 L102.80,174.37 L103.39,173.72 L103.97,173.07 L104.55,172.41 L105.14,171.74 L105.72,171.07 L106.30,170.40 L106.88,169.72 L107.47,169.04 L108.05,168.36 L108.63,167.68 L109.22,167.00 L109.80,166.33 L110.38,165.65 L110.97,164.99 L111.55,164.33 L112.13,163.67 L112.72,163.01 L113.30,162.35 L113.88,161.69 L114.47,161.03 L115.05,160.37 L115.63,159.71 L116.22,159.05 L116.80,158.39 L117.38,157.73 L117.97,157.08 L118.55,156.42 L119.13,155.77 L119.71,155.12 L120.30,154.48 L120.88,153.83 L121.46,153.19 L122.05,152.56 L122.63,151.93 L123.21,151.31 L123.80,150.70 L124.38,150.09 L124.96,149.49 L125.55,148.89 L126.13,148.30 L126.71,147.71 L127.30,147.12 L127.88,146.52 L128.46,145.93 L129.05,145.33 L129.63,144.74 L130.21,144.13 L130.79,143.52 L131.38,142.90 L131.96,142.27 L132.54,141.64 L133.13,140.99 L133.71,140.33 L134.29,139.66 L134.88,138.96 L135.46,138.24 L136.04,137.50 L136.63,136.75 L137.21,136.00 L137.79,135.25 L138.38,134.50 L138.96,133.77 L139.54,133.05 L140.13,132.35 L140.71,131.66 L141.29,130.98 L141.87,130.29 L142.46,129.61 L143.04,128.94 L143.62,128.26 L144.21,127.60 L144.79,126.94 L145.37,126.29 L145.96,125.65 L146.54,125.02 L147.12,124.40 L147.71,123.80 L148.29,123.20 L148.87,122.62 L149.46,122.06 L150.04,121.49 L150.62,120.93 L151.21,120.38 L151.79,119.83 L152.37,119.29 L152.96,118.75 L153.54,118.22 L154.12,117.69 L154.70,117.17 L155.29,116.66 L155.87,116.16 L156.45,115.66 L157.04,115.17 L157.62,114.69 L158.20,114.22 L158.79,113.76 L159.37,113.31 L159.95,112.87 L160.54,112.43 L161.12,112.01 L161.70,111.60 L162.29,111.19 L162.87,110.79 L163.45,110.40 L164.04,110.01 L164.62,109.62 L165.20,109.25 L165.78,108.88 L166.37,108.52 L166.95,108.17 L167.53,107.83 L168.12,107.50 L168.70,107.18 L169.28,106.87 L169.87,106.58 L170.45,106.30 L171.03,106.03 L171.62,105.77 L172.20,105.52 L172.78,105.28 L173.37,105.04 L173.95,104.80 L174.53,104.57 L175.12,104.35 L175.70,104.13 L176.28,103.92 L176.86,103.72 L177.45,103.52 L178.03,103.33 L178.61,103.15 L179.20,102.97 L179.78,102.81 L180.36,102.65 L180.95,102.50 L181.53,102.36 L182.11,102.23 L182.70,102.10 L183.28,101.98 L183.86,101.85 L184.45,101.74 L185.03,101.63 L185.61,101.53 L186.20,101.43 L186.78,101.35 L187.36,101.28 L187.95,101.22 L188.53,101.17 L189.11,101.13 L189.69,101.09 L190.28,101.05 L190.86,101.01 L191.44,100.98 L192.03,100.95 L192.61,100.93 L193.19,100.91 L193.78,100.90 L194.36,100.90 L194.94,100.93 L195.53,100.99 L196.11,101.09 L196.69,101.20 L197.28,101.34 L197.86,101.49 L198.44,101.65 L199.03,101.82 L199.61,101.98 L200.19,102.14 L200.77,102.30 L201.36,102.46 L201.94,102.63 L202.52,102.81 L203.11,102.99 L203.69,103.18 L204.27,103.38 L204.86,103.58 L205.44,103.79 L206.02,104.01 L206.61,104.23 L207.19,104.46 L207.77,104.69 L208.36,104.93 L208.94,105.18 L209.52,105.43 L210.11,105.69 L210.69,105.95 L211.27,106.22 L211.85,106.50 L212.44,106.78 L213.02,107.07 L213.60,107.36 L214.19,107.66 L214.77,107.96 L215.35,108.27 L215.94,108.58 L216.52,108.90 L217.10,109.23 L217.69,109.57 L218.27,109.94 L218.85,110.31 L219.44,110.71 L220.02,111.12 L220.60,111.54 L221.19,111.98 L221.77,112.43 L222.35,112.89 L222.94,113.37 L223.52,113.85 L224.10,114.34 L224.68,114.84 L225.27,115.35 L225.85,115.86 L226.43,116.38 L227.02,116.91 L227.60,117.44 L228.18,117.97 L228.77,118.51 L229.35,119.05 L229.93,119.60 L230.52,120.17 L231.10,120.75 L231.68,121.36 L232.27,121.98 L232.85,122.61 L233.43,123.25 L234.02,123.91 L234.60,124.57 L235.18,125.24 L235.76,125.91 L236.35,126.59 L236.93,127.26 L237.51,127.94 L238.10,128.62 L238.68,129.30 L239.26,129.97 L239.85,130.63 L240.43,131.29 L241.01,131.94 L241.60,132.57 L242.18,133.20 L242.76,133.81 L243.35,134.42 L243.93,135.02 L244.51,135.62 L245.10,136.21 L245.68,136.80 L246.26,137.38 L246.84,137.96 L247.43,138.55 L248.01,139.13 L248.59,139.72 L249.18,140.31 L249.76,140.90 L250.34,141.50 L250.93,142.10 L251.51,142.71 L252.09,143.33 L252.68,143.96 L253.26,144.60 L253.84,145.25 L254.43,145.91 L255.01,146.59 L255.59,147.29 L256.18,147.99 L256.76,148.71 L257.34,149.44 L257.93,150.18 L258.51,150.93 L259.09,151.69 L259.67,152.46 L260.26,153.24 L260.84,154.02 L261.42,154.80 L262.01,155.59 L262.59,156.38 L263.17,157.17 L263.76,157.96 L264.34,158.75 L264.92,159.54 L265.51,160.33 L266.09,161.12 L266.67,161.89 L267.26,162.67 L267.84,163.43 L268.42,164.19 L269.01,164.94 L269.59,165.68 L270.17,166.41 L270.75,167.14 L271.34,167.87 L271.92,168.60 L272.50,169.32 L273.09,170.05 L273.67,170.77 L274.25,171.49 L274.84,172.21 L275.42,172.92 L276.00,173.64 L276.59,174.34 L277.17,175.05 L277.75,175.74 L278.34,176.44 L278.92,177.13 L279.50,177.81 L280.09,178.48 L280.67,179.15 L281.25,179.81 L281.83,180.46 L282.42,181.10 L283.00,181.74 L283.58,182.37 L284.17,182.99 L284.75,183.61 L285.33,184.23 L285.92,184.84 L286.50,185.45 L287.08,186.05 L287.67,186.64 L288.25,187.24 L288.83,187.82 L289.42,188.40 L290.00,188.98 L290.58,189.55 L291.17,190.12 L291.75,190.68 L292.33,191.24 L292.92,191.79 L293.50,192.34 L294.08,192.88 L294.66,193.41 L295.25,193.94 L295.83,194.47 L296.41,195.00 L297.00,195.52 L297.58,196.04 L298.16,196.55 L298.75,197.06 L299.33,197.56 L299.91,198.04 L300.50,198.52 L301.08,198.98 L301.66,199.44 L302.25,199.87 L302.83,200.29 L303.41,200.74 L304.00,201.20 L304.58,201.67 L305.16,202.12 L305.74,202.53 L306.33,202.89 L306.91,203.17 L307.49,203.35 L308.08,203.43 L308.66,203.48 L309.24,203.53 L309.83,203.57 L310.41,203.59 L310.99,203.60 L311.58,203.55 L312.16,203.41 L312.74,203.19 L313.33,202.92 L313.91,202.60 L314.49,202.26 L315.08,201.91 L315.66,201.56 L316.24,201.24 L316.82,200.96 L317.41,200.73 L317.99,200.58 L318.57,200.46 L319.16,200.33 L319.74,200.22 L320.32,200.11 L320.91,200.01 L321.49,199.93 L322.07,199.87 L322.66,199.82 L323.24,199.80 L323.82,199.81 L324.41,199.85 L324.99,199.92 L325.57,200.02 L326.16,200.13 L326.74,200.27 L327.32,200.41 L327.91,200.56 L328.49,200.71 L329.07,200.87 L329.65,201.01 L330.24,201.14 L330.82,201.27 L331.40,201.40 L331.99,201.53 L332.57,201.67 L333.15,201.81 L333.74,201.96 L334.32,202.10 L334.90,202.24 L335.49,202.37 L336.07,202.49 L336.65,202.60 L337.24,202.70 L337.82,202.78 L338.40,202.85 L338.99,202.91 L339.57,202.98 L340.15,203.04 L340.73,203.10 L341.32,203.16 L341.90,203.21 L342.48,203.26 L343.07,203.30 L343.65,203.34 L344.23,203.37 L344.82,203.39 L345.40,203.40" stroke="#00ee00" stroke-width="2.2" stroke-dasharray="6.6 2.8"/>
<path d="M53.30,203.90 L53.89,203.90 L54.48,203.90 L55.06,203.90 L55.65,203.90 L56.24,203.90 L56.83,203.89 L57.41,203.89 L58.00,203.89 L58.59,203.88 L59.18,203.88 L59.76,203.87 L60.35,203.86 L60.94,203.86 L61.53,203.85 L62.11,203.84 L62.70,203.83 L63.29,203.82 L63.88,203.81 L64.46,203.80 L65.05,203.79 L65.64,203.77 L66.23,203.76 L66.81,203.75 L67.40,203.73 L67.99,203.72 L68.58,203.70 L69.16,203.69 L69.75,203.67 L70.34,203.65 L70.93,203.64 L71.51,203.62 L72.10,203.60 L72.69,203.58 L73.28,203.56 L73.87,203.54 L74.45,203.52 L75.04,203.50 L75.63,203.47 L76.22,203.43 L76.80,203.39 L77.39,203.33 L77.98,203.27 L78.57,203.20 L79.15,203.12 L79.74,203.03 L80.33,202.94 L80.92,202.84 L81.50,202.73 L82.09,202.62 L82.68,202.50 L83.27,202.38 L83.85,202.25 L84.44,202.13 L85.03,201.99 L85.62,201.86 L86.20,201.72 L86.79,201.58 L87.38,201.44 L87.97,201.30 L88.55,201.15 L89.14,201.01 L89.73,200.87 L90.32,200.72 L90.90,200.57 L91.49,200.40 L92.08,200.23 L92.67,200.04 L93.26,199.85 L93.84,199.65 L94.43,199.45 L95.02,199.24 L95.61,199.02 L96.19,198.80 L96.78,198.57 L97.37,198.34 L97.96,198.11 L98.54,197.88 L99.13,197.65 L99.72,197.41 L100.31,197.18 L100.89,196.94 L101.48,196.70 L102.07,196.45 L102.66,196.20 L103.24,195.94 L103.83,195.68 L104.42,195.42 L105.01,195.15 L105.59,194.87 L106.18,194.60 L106.77,194.32 L107.36,194.03 L107.94,193.74 L108.53,193.45 L109.12,193.15 L109.71,192.85 L110.29,192.55 L110.88,192.24 L111.47,191.92 L112.06,191.60 L112.65,191.27 L113.23,190.94 L113.82,190.60 L114.41,190.25 L115.00,189.90 L115.58,189.54 L116.17,189.18 L116.76,188.81 L117.35,188.43 L117.93,188.04 L118.52,187.65 L119.11,187.24 L119.70,186.83 L120.28,186.40 L120.87,185.97 L121.46,185.53 L122.05,185.08 L122.63,184.62 L123.22,184.16 L123.81,183.69 L124.40,183.21 L124.98,182.73 L125.57,182.25 L126.16,181.77 L126.75,181.28 L127.33,180.78 L127.92,180.28 L128.51,179.77 L129.10,179.26 L129.68,178.74 L130.27,178.21 L130.86,177.68 L131.45,177.14 L132.04,176.59 L132.62,176.03 L133.21,175.47 L133.80,174.90 L134.39,174.32 L134.97,173.72 L135.56,173.11 L136.15,172.49 L136.74,171.86 L137.32,171.22 L137.91,170.57 L138.50,169.92 L139.09,169.26 L139.67,168.60 L140.26,167.93 L140.85,167.27 L141.44,166.60 L142.02,165.94 L142.61,165.28 L143.20,164.63 L143.79,163.99 L144.37,163.34 L144.96,162.70 L145.55,162.05 L146.14,161.41 L146.72,160.77 L147.31,160.12 L147.90,159.48 L148.49,158.84 L149.07,158.19 L149.66,157.55 L150.25,156.90 L150.84,156.25 L151.43,155.60 L152.01,154.95 L152.60,154.30 L153.19,153.64 L153.78,152.98 L154.36,152.32 L154.95,151.65 L155.54,150.98 L156.13,150.30 L156.71,149.62 L157.30,148.94 L157.89,148.26 L158.48,147.57 L159.06,146.89 L159.65,146.21 L160.24,145.52 L160.83,144.85 L161.41,144.17 L162.00,143.50 L162.59,142.83 L163.18,142.16 L163.76,141.50 L164.35,140.84 L164.94,140.17 L165.53,139.51 L166.11,138.85 L166.70,138.20 L167.29,137.54 L167.88,136.88 L168.46,136.22 L169.05,135.56 L169.64,134.90 L170.23,134.24 L170.82,133.58 L171.40,132.92 L171.99,132.26 L172.58,131.60 L173.17,130.94 L173.75,130.28 L174.34,129.61 L174.93,128.95 L175.52,128.29 L176.10,127.63 L176.69,126.97 L177.28,126.32 L177.87,125.66 L178.45,125.01 L179.04,124.36 L179.63,123.71 L180.22,123.06 L180.80,122.42 L181.39,121.77 L181.98,121.12 L182.57,120.48 L183.15,119.84 L183.74,119.19 L184.33,118.55 L184.92,117.91 L185.50,117.28 L186.09,116.64 L186.68,116.01 L187.27,115.38 L187.85,114.76 L188.44,114.13 L189.03,113.51 L189.62,112.90 L190.21,112.29 L190.79,111.68 L191.38,111.07 L191.97,110.46 L192.56,109.85 L193.14,109.24 L193.73,108.64 L194.32,108.04 L194.91,107.44 L195.49,106.84 L196.08,106.26 L196.67,105.67 L197.26,105.09 L197.84,104.52 L198.43,103.95 L199.02,103.39 L199.61,102.84 L200.19,102.30 L200.78,101.76 L201.37,101.23 L201.96,100.70 L202.54,100.17 L203.13,99.65 L203.72,99.14 L204.31,98.63 L204.89,98.12 L205.48,97.62 L206.07,97.13 L206.66,96.64 L207.24,96.16 L207.83,95.69 L208.42,95.22 L209.01,94.76 L209.59,94.31 L210.18,93.86 L210.77,93.42 L211.36,92.98 L211.95,92.55 L212.53,92.12 L213.12,91.69 L213.71,91.27 L214.30,90.86 L214.88,90.45 L215.47,90.05 L216.06,89.65 L216.65,89.26 L217.23,88.88 L217.82,88.51 L218.41,88.14 L219.00,87.79 L219.58,87.44 L220.17,87.10 L220.76,86.77 L221.35,86.44 L221.93,86.11 L222.52,85.79 L223.11,85.48 L223.70,85.16 L224.28,84.86 L224.87,84.56 L225.46,84.27 L226.05,83.98 L226.63,83.70 L227.22,83.43 L227.81,83.18 L228.40,82.93 L228.98,82.69 L229.57,82.46 L230.16,82.24 L230.75,82.03 L231.34,81.82 L231.92,81.61 L232.51,81.40 L233.10,81.20 L233.69,81.01 L234.27,80.82 L234.86,80.63 L235.45,80.46 L236.04,80.29 L236.62,80.13 L237.21,79.97 L237.80,79.83 L238.39,79.70 L238.97,79.58 L239.56,79.47 L240.15,79.38 L240.74,79.28 L241.32,79.19 L241.91,79.10 L242.50,79.01 L243.09,78.92 L243.67,78.84 L244.26,78.76 L244.85,78.69 L245.44,78.62 L246.02,78.56 L246.61,78.51 L247.20,78.47 L247.79,78.43 L248.37,78.41 L248.96,78.40 L249.55,78.40 L250.14,78.40 L250.73,78.41 L251.31,78.42 L251.90,78.43 L252.49,78.45 L253.08,78.47 L253.66,78.49 L254.25,78.51 L254.84,78.53 L255.43,78.56 L256.01,78.59 L256.60,78.62 L257.19,78.65 L257.78,78.68 L258.36,78.71 L258.95,78.74 L259.54,78.77 L260.13,78.81 L260.71,78.84 L261.30,78.89 L261.89,78.93 L262.48,78.99 L263.06,79.04 L263.65,79.11 L264.24,79.17 L264.83,79.24 L265.41,79.32 L266.00,79.39 L266.59,79.47 L267.18,79.56 L267.76,79.64 L268.35,79.73 L268.94,79.83 L269.53,79.92 L270.12,80.02 L270.70,80.13 L271.29,80.24 L271.88,80.37 L272.47,80.51 L273.05,80.65 L273.64,80.81 L274.23,80.97 L274.82,81.14 L275.40,81.31 L275.99,81.49 L276.58,81.68 L277.17,81.86 L277.75,82.05 L278.34,82.24 L278.93,82.43 L279.52,82.62 L280.10,82.82 L280.69,83.00 L281.28,83.19 L281.87,83.38 L282.45,83.56 L283.04,83.73 L283.63,83.90 L284.22,84.07 L284.80,84.24 L285.39,84.41 L285.98,84.57 L286.57,84.74 L287.15,84.90 L287.74,85.07 L288.33,85.24 L288.92,85.41 L289.51,85.58 L290.09,85.76 L290.68,85.95 L291.27,86.14 L291.86,86.33 L292.44,86.53 L293.03,86.74 L293.62,86.96 L294.21,87.19 L294.79,87.43 L295.38,87.68 L295.97,87.93 L296.56,88.20 L297.14,88.49 L297.73,88.78 L298.32,89.10 L298.91,89.44 L299.49,89.81 L300.08,90.21 L300.67,90.64 L301.26,91.10 L301.84,91.61 L302.43,92.21 L303.02,92.90 L303.61,93.69 L304.19,94.55 L304.78,95.50 L305.37,96.53 L305.96,97.74 L306.54,99.18 L307.13,100.77 L307.72,102.47 L308.31,104.28 L308.90,106.29 L309.48,108.43 L310.07,110.63 L310.66,112.85 L311.25,115.12 L311.83,117.47 L312.42,119.93 L313.01,122.54 L313.60,125.28 L314.18,128.18 L314.77,131.25 L315.36,134.54 L315.95,138.15 L316.53,142.07 L317.12,146.15 L317.71,150.51 L318.30,155.09 L318.88,159.50 L319.47,163.48 L320.06,167.29 L320.65,170.91 L321.23,174.27 L321.82,177.32 L322.41,180.17 L323.00,182.83 L323.58,185.28 L324.17,187.50 L324.76,189.57 L325.35,191.54 L325.93,193.30 L326.52,194.74 L327.11,195.86 L327.70,196.86 L328.29,197.76 L328.87,198.56 L329.46,199.25 L330.05,199.83 L330.64,200.30 L331.22,200.71 L331.81,201.09 L332.40,201.43 L332.99,201.74 L333.57,202.02 L334.16,202.26 L334.75,202.47 L335.34,202.65 L335.92,202.81 L336.51,202.96 L337.10,203.09 L337.69,203.21 L338.27,203.32 L338.86,203.42 L339.45,203.51 L340.04,203.59 L340.62,203.66 L341.21,203.72 L341.80,203.78 L342.39,203.83 L342.97,203.89 L343.56,203.93 L344.15,203.97 L344.74,203.99 L345.32,204.00 L345.91,204.00 L346.50,204.00" stroke="#0000ff" stroke-width="2"/>
<path d="M54.40,203.90 L54.98,203.90 L55.57,203.90 L56.15,203.90 L56.73,203.90 L57.32,203.90 L57.90,203.90 L58.48,203.90 L59.07,203.90 L59.65,203.90 L60.23,203.90 L60.81,203.90 L61.40,203.90 L61.98,203.90 L62.56,203.90 L63.15,203.90 L63.73,203.90 L64.31,203.90 L64.90,203.90 L65.48,203.90 L66.06,203.90 L66.65,203.90 L67.23,203.90 L67.81,203.90 L68.40,203.90 L68.98,203.90 L69.56,203.90 L70.15,203.90 L70.73,203.90 L71.31,203.90 L71.89,203.90 L72.48,203.90 L73.06,203.90 L73.64,203.90 L74.23,203.90 L74.81,203.90 L75.39,203.90 L75.98,203.90 L76.56,203.90 L77.14,203.90 L77.73,203.90 L78.31,203.90 L78.89,203.90 L79.48,203.90 L80.06,203.90 L80.64,203.90 L81.23,203.90 L81.81,203.89 L82.39,203.89 L82.98,203.89 L83.56,203.88 L84.14,203.87 L84.72,203.86 L85.31,203.85 L85.89,203.84 L86.47,203.83 L87.06,203.82 L87.64,203.80 L88.22,203.79 L88.81,203.77 L89.39,203.75 L89.97,203.73 L90.56,203.71 L91.14,203.69 L91.72,203.67 L92.31,203.64 L92.89,203.62 L93.47,203.59 L94.06,203.56 L94.64,203.53 L95.22,203.50 L95.80,203.47 L96.39,203.43 L96.97,203.40 L97.55,203.36 L98.14,203.33 L98.72,203.29 L99.30,203.25 L99.89,203.21 L100.47,203.15 L101.05,203.04 L101.64,202.90 L102.22,202.71 L102.80,202.49 L103.39,202.23 L103.97,201.95 L104.55,201.65 L105.14,201.33 L105.72,200.99 L106.30,200.65 L106.88,200.29 L107.47,199.94 L108.05,199.59 L108.63,199.25 L109.22,198.92 L109.80,198.60 L110.38,198.30 L110.97,197.99 L111.55,197.67 L112.13,197.34 L112.72,197.00 L113.30,196.67 L113.88,196.33 L114.47,195.98 L115.05,195.64 L115.63,195.31 L116.22,194.97 L116.80,194.65 L117.38,194.33 L117.97,194.02 L118.55,193.72 L119.13,193.44 L119.71,193.17 L120.30,192.91 L120.88,192.66 L121.46,192.40 L122.05,192.14 L122.63,191.87 L123.21,191.59 L123.80,191.30 L124.38,190.98 L124.96,190.65 L125.55,190.28 L126.13,189.87 L126.71,189.43 L127.30,188.97 L127.88,188.47 L128.46,187.96 L129.05,187.43 L129.63,186.89 L130.21,186.35 L130.79,185.80 L131.38,185.24 L131.96,184.67 L132.54,184.07 L133.13,183.46 L133.71,182.84 L134.29,182.20 L134.88,181.56 L135.46,180.91 L136.04,180.26 L136.63,179.60 L137.21,178.95 L137.79,178.31 L138.38,177.67 L138.96,177.04 L139.54,176.43 L140.13,175.82 L140.71,175.22 L141.29,174.63 L141.87,174.03 L142.46,173.42 L143.04,172.81 L143.62,172.18 L144.21,171.53 L144.79,170.86 L145.37,170.15 L145.96,169.42 L146.54,168.67 L147.12,167.91 L147.71,167.17 L148.29,166.43 L148.87,165.73 L149.46,165.07 L150.04,164.44 L150.62,163.84 L151.21,163.24 L151.79,162.65 L152.37,162.03 L152.96,161.39 L153.54,160.71 L154.12,159.97 L154.70,159.14 L155.29,158.22 L155.87,157.23 L156.45,156.19 L157.04,155.12 L157.62,154.05 L158.20,153.01 L158.79,152.02 L159.37,151.09 L159.95,150.26 L160.54,149.52 L161.12,148.83 L161.70,148.18 L162.29,147.56 L162.87,146.97 L163.45,146.39 L164.04,145.82 L164.62,145.24 L165.20,144.65 L165.78,144.03 L166.37,143.39 L166.95,142.70 L167.53,142.00 L168.12,141.29 L168.70,140.56 L169.28,139.82 L169.87,139.07 L170.45,138.31 L171.03,137.54 L171.62,136.75 L172.20,135.96 L172.78,135.15 L173.37,134.34 L173.95,133.51 L174.53,132.68 L175.12,131.83 L175.70,130.95 L176.28,130.04 L176.86,129.09 L177.45,128.12 L178.03,127.13 L178.61,126.13 L179.20,125.12 L179.78,124.11 L180.36,123.12 L180.95,122.13 L181.53,121.17 L182.11,120.24 L182.70,119.34 L183.28,118.49 L183.86,117.68 L184.45,116.92 L185.03,116.17 L185.61,115.43 L186.20,114.71 L186.78,114.01 L187.36,113.32 L187.95,112.65 L188.53,111.99 L189.11,111.35 L189.69,110.73 L190.28,110.12 L190.86,109.53 L191.44,108.96 L192.03,108.41 L192.61,107.87 L193.19,107.35 L193.78,106.84 L194.36,106.35 L194.94,105.87 L195.53,105.40 L196.11,104.94 L196.69,104.49 L197.28,104.06 L197.86,103.65 L198.44,103.24 L199.03,102.85 L199.61,102.48 L200.19,102.12 L200.77,101.78 L201.36,101.43 L201.94,101.09 L202.52,100.76 L203.11,100.43 L203.69,100.11 L204.27,99.81 L204.86,99.51 L205.44,99.24 L206.02,98.99 L206.61,98.75 L207.19,98.54 L207.77,98.36 L208.36,98.20 L208.94,98.05 L209.52,97.89 L210.11,97.74 L210.69,97.60 L211.27,97.47 L211.85,97.34 L212.44,97.24 L213.02,97.15 L213.60,97.07 L214.19,97.03 L214.77,97.00 L215.35,97.00 L215.94,97.03 L216.52,97.08 L217.10,97.15 L217.69,97.24 L218.27,97.34 L218.85,97.46 L219.44,97.60 L220.02,97.75 L220.60,97.91 L221.19,98.09 L221.77,98.27 L222.35,98.46 L222.94,98.66 L223.52,98.86 L224.10,99.07 L224.68,99.27 L225.27,99.48 L225.85,99.69 L226.43,99.93 L227.02,100.19 L227.60,100.49 L228.18,100.80 L228.77,101.14 L229.35,101.50 L229.93,101.87 L230.52,102.26 L231.10,102.65 L231.68,103.06 L232.27,103.47 L232.85,103.89 L233.43,104.31 L234.02,104.75 L234.60,105.20 L235.18,105.66 L235.76,106.13 L236.35,106.62 L236.93,107.13 L237.51,107.66 L238.10,108.20 L238.68,108.76 L239.26,109.33 L239.85,109.93 L240.43,110.55 L241.01,111.19 L241.60,111.85 L242.18,112.54 L242.76,113.33 L243.35,114.21 L243.93,115.12 L244.51,116.04 L245.10,116.94 L245.68,117.77 L246.26,118.54 L246.84,119.28 L247.43,120.00 L248.01,120.69 L248.59,121.37 L249.18,122.03 L249.76,122.68 L250.34,123.32 L250.93,123.95 L251.51,124.58 L252.09,125.21 L252.68,125.85 L253.26,126.50 L253.84,127.15 L254.43,127.82 L255.01,128.51 L255.59,129.22 L256.18,129.96 L256.76,130.72 L257.34,131.52 L257.93,132.35 L258.51,133.22 L259.09,134.21 L259.67,135.30 L260.26,136.44 L260.84,137.56 L261.42,138.64 L262.01,139.61 L262.59,140.49 L263.17,141.32 L263.76,142.11 L264.34,142.88 L264.92,143.63 L265.51,144.37 L266.09,145.11 L266.67,145.87 L267.26,146.64 L267.84,147.40 L268.42,148.15 L269.01,148.89 L269.59,149.63 L270.17,150.37 L270.75,151.12 L271.34,151.87 L271.92,152.64 L272.50,153.43 L273.09,154.23 L273.67,155.07 L274.25,155.93 L274.84,156.88 L275.42,157.89 L276.00,158.91 L276.59,159.90 L277.17,160.81 L277.75,161.63 L278.34,162.41 L278.92,163.16 L279.50,163.89 L280.09,164.60 L280.67,165.28 L281.25,165.95 L281.83,166.61 L282.42,167.26 L283.00,167.90 L283.58,168.53 L284.17,169.17 L284.75,169.80 L285.33,170.44 L285.92,171.09 L286.50,171.75 L287.08,172.41 L287.67,173.07 L288.25,173.73 L288.83,174.38 L289.42,175.04 L290.00,175.69 L290.58,176.34 L291.17,176.98 L291.75,177.62 L292.33,178.26 L292.92,178.89 L293.50,179.51 L294.08,180.13 L294.66,180.74 L295.25,181.34 L295.83,181.93 L296.41,182.51 L297.00,183.09 L297.58,183.65 L298.16,184.20 L298.75,184.75 L299.33,185.28 L299.91,185.81 L300.50,186.33 L301.08,186.85 L301.66,187.36 L302.25,187.87 L302.83,188.38 L303.41,188.88 L304.00,189.39 L304.58,189.90 L305.16,190.40 L305.74,190.92 L306.33,191.43 L306.91,191.95 L307.49,192.47 L308.08,193.00 L308.66,193.54 L309.24,194.09 L309.83,194.64 L310.41,195.21 L310.99,195.82 L311.58,196.49 L312.16,197.19 L312.74,197.90 L313.33,198.59 L313.91,199.25 L314.49,199.85 L315.08,200.38 L315.66,200.80 L316.24,201.12 L316.82,201.40 L317.41,201.66 L317.99,201.89 L318.57,202.11 L319.16,202.31 L319.74,202.49 L320.32,202.65 L320.91,202.79 L321.49,202.91 L322.07,203.01 L322.66,203.11 L323.24,203.20 L323.82,203.28 L324.41,203.37 L324.99,203.45 L325.57,203.52 L326.16,203.59 L326.74,203.66 L327.32,203.73 L327.91,203.79 L328.49,203.85 L329.07,203.90 L329.65,203.95 L330.24,204.00 L330.82,204.04 L331.40,204.08 L331.99,204.11 L332.57,204.14 L333.15,204.17 L333.74,204.19 L334.32,204.21 L334.90,204.23 L335.49,204.24 L336.07,204.26 L336.65,204.27 L337.24,204.29 L337.82,204.30 L338.40,204.32 L338.99,204.33 L339.57,204.34 L340.15,204.35 L340.73,204.36 L341.32,204.37 L341.90,204.38 L342.48,204.38 L343.07,204.39 L343.65,204.39 L344.23,204.40 L344.82,204.40 L345.40,204.40" stroke="#808080" stroke-width="2.2" stroke-dasharray="19.3 7.85"/>
<path d="M53.40,200.30 L53.99,200.21 L54.57,200.10 L55.16,199.99 L55.75,199.87 L56.34,199.74 L56.92,199.60 L57.51,199.46 L58.10,199.31 L58.68,199.16 L59.27,199.00 L59.86,198.84 L60.45,198.67 L61.03,198.50 L61.62,198.32 L62.21,198.12 L62.79,197.92 L63.38,197.70 L63.97,197.46 L64.56,197.21 L65.14,196.93 L65.73,196.62 L66.32,196.26 L66.91,195.88 L67.49,195.46 L68.08,195.02 L68.67,194.57 L69.25,194.10 L69.84,193.63 L70.43,193.15 L71.02,192.66 L71.60,192.14 L72.19,191.61 L72.78,191.06 L73.36,190.49 L73.95,189.90 L74.54,189.29 L75.13,188.66 L75.71,188.02 L76.30,187.35 L76.89,186.66 L77.47,185.95 L78.06,185.20 L78.65,184.43 L79.24,183.61 L79.82,182.76 L80.41,181.86 L81.00,180.86 L81.58,179.78 L82.17,178.65 L82.76,177.49 L83.35,176.33 L83.93,175.17 L84.52,174.05 L85.11,172.99 L85.69,171.97 L86.28,170.97 L86.87,169.99 L87.46,169.02 L88.04,168.06 L88.63,167.11 L89.22,166.16 L89.80,165.21 L90.39,164.28 L90.98,163.36 L91.57,162.45 L92.15,161.54 L92.74,160.60 L93.33,159.61 L93.92,158.59 L94.50,157.54 L95.09,156.46 L95.68,155.37 L96.26,154.26 L96.85,153.15 L97.44,152.03 L98.03,150.93 L98.61,149.84 L99.20,148.77 L99.79,147.72 L100.37,146.72 L100.96,145.75 L101.55,144.80 L102.14,143.88 L102.72,142.96 L103.31,142.04 L103.90,141.10 L104.48,140.15 L105.07,139.17 L105.66,138.14 L106.25,137.07 L106.83,135.93 L107.42,134.70 L108.01,133.37 L108.59,131.96 L109.18,130.49 L109.77,128.99 L110.36,127.50 L110.94,126.02 L111.53,124.58 L112.12,123.22 L112.70,121.95 L113.29,120.71 L113.88,119.50 L114.47,118.31 L115.05,117.15 L115.64,116.01 L116.23,114.88 L116.81,113.76 L117.40,112.66 L117.99,111.56 L118.58,110.46 L119.16,109.37 L119.75,108.27 L120.34,107.17 L120.93,106.06 L121.51,104.94 L122.10,103.81 L122.69,102.66 L123.27,101.50 L123.86,100.33 L124.45,99.16 L125.04,97.98 L125.62,96.80 L126.21,95.62 L126.80,94.44 L127.38,93.27 L127.97,92.09 L128.56,90.93 L129.15,89.77 L129.73,88.63 L130.32,87.49 L130.91,86.37 L131.49,85.27 L132.08,84.19 L132.67,83.12 L133.26,82.08 L133.84,81.04 L134.43,80.01 L135.02,78.97 L135.60,77.94 L136.19,76.91 L136.78,75.90 L137.37,74.91 L137.95,73.94 L138.54,73.00 L139.13,72.08 L139.71,71.21 L140.30,70.37 L140.89,69.57 L141.48,68.83 L142.06,68.11 L142.65,67.40 L143.24,66.69 L143.82,65.99 L144.41,65.30 L145.00,64.63 L145.59,63.99 L146.17,63.37 L146.76,62.78 L147.35,62.22 L147.94,61.71 L148.52,61.23 L149.11,60.80 L149.70,60.43 L150.28,60.10 L150.87,59.83 L151.46,59.56 L152.05,59.30 L152.63,59.04 L153.22,58.79 L153.81,58.55 L154.39,58.32 L154.98,58.10 L155.57,57.90 L156.16,57.71 L156.74,57.54 L157.33,57.40 L157.92,57.27 L158.50,57.16 L159.09,57.08 L159.68,57.03 L160.27,57.00 L160.85,57.01 L161.44,57.04 L162.03,57.09 L162.61,57.17 L163.20,57.27 L163.79,57.39 L164.38,57.53 L164.96,57.69 L165.55,57.87 L166.14,58.05 L166.72,58.25 L167.31,58.46 L167.90,58.68 L168.49,58.90 L169.07,59.13 L169.66,59.36 L170.25,59.60 L170.83,59.88 L171.42,60.20 L172.01,60.56 L172.60,60.95 L173.18,61.38 L173.77,61.84 L174.36,62.33 L174.95,62.85 L175.53,63.39 L176.12,63.95 L176.71,64.53 L177.29,65.13 L177.88,65.74 L178.47,66.36 L179.06,66.98 L179.64,67.61 L180.23,68.25 L180.82,68.93 L181.40,69.64 L181.99,70.40 L182.58,71.19 L183.17,72.01 L183.75,72.86 L184.34,73.74 L184.93,74.64 L185.51,75.55 L186.10,76.47 L186.69,77.41 L187.28,78.35 L187.86,79.30 L188.45,80.24 L189.04,81.20 L189.62,82.17 L190.21,83.16 L190.80,84.17 L191.39,85.19 L191.97,86.22 L192.56,87.27 L193.15,88.33 L193.73,89.40 L194.32,90.48 L194.91,91.58 L195.50,92.68 L196.08,93.80 L196.67,94.92 L197.26,96.05 L197.84,97.19 L198.43,98.33 L199.02,99.48 L199.61,100.63 L200.19,101.79 L200.78,102.96 L201.37,104.15 L201.96,105.38 L202.54,106.63 L203.13,107.90 L203.72,109.19 L204.30,110.50 L204.89,111.83 L205.48,113.17 L206.07,114.53 L206.65,115.89 L207.24,117.27 L207.83,118.65 L208.41,120.03 L209.00,121.42 L209.59,122.81 L210.18,124.20 L210.76,125.58 L211.35,126.95 L211.94,128.32 L212.52,129.68 L213.11,131.02 L213.70,132.35 L214.29,133.66 L214.87,134.96 L215.46,136.23 L216.05,137.48 L216.63,138.71 L217.22,139.91 L217.81,141.07 L218.40,142.21 L218.98,143.32 L219.57,144.39 L220.16,145.42 L220.74,146.41 L221.33,147.35 L221.92,148.26 L222.51,149.13 L223.09,149.98 L223.68,150.80 L224.27,151.60 L224.85,152.40 L225.44,153.18 L226.03,153.97 L226.62,154.76 L227.20,155.56 L227.79,156.38 L228.38,157.22 L228.97,158.09 L229.55,158.99 L230.14,159.93 L230.73,160.89 L231.31,161.88 L231.90,162.89 L232.49,163.90 L233.08,164.92 L233.66,165.93 L234.25,166.94 L234.84,167.93 L235.42,168.90 L236.01,169.84 L236.60,170.75 L237.19,171.62 L237.77,172.47 L238.36,173.30 L238.95,174.11 L239.53,174.91 L240.12,175.70 L240.71,176.48 L241.30,177.24 L241.88,178.00 L242.47,178.75 L243.06,179.49 L243.64,180.23 L244.23,180.97 L244.82,181.70 L245.41,182.44 L245.99,183.18 L246.58,183.92 L247.17,184.66 L247.75,185.39 L248.34,186.11 L248.93,186.82 L249.52,187.50 L250.10,188.16 L250.69,188.80 L251.28,189.40 L251.86,189.97 L252.45,190.52 L253.04,191.04 L253.63,191.56 L254.21,192.06 L254.80,192.55 L255.39,193.03 L255.98,193.48 L256.56,193.93 L257.15,194.35 L257.74,194.75 L258.32,195.14 L258.91,195.50 L259.50,195.84 L260.09,196.17 L260.67,196.49 L261.26,196.80 L261.85,197.10 L262.43,197.40 L263.02,197.68 L263.61,197.96 L264.20,198.23 L264.78,198.49 L265.37,198.74 L265.96,198.98 L266.54,199.21 L267.13,199.42 L267.72,199.63 L268.31,199.82 L268.89,200.00 L269.48,200.17 L270.07,200.32 L270.65,200.47 L271.24,200.61 L271.83,200.74 L272.42,200.87 L273.00,200.99 L273.59,201.10 L274.18,201.22 L274.76,201.32 L275.35,201.43 L275.94,201.53 L276.53,201.63 L277.11,201.72 L277.70,201.82 L278.29,201.91 L278.87,202.01 L279.46,202.10 L280.05,202.20 L280.64,202.29 L281.22,202.38 L281.81,202.47 L282.40,202.56 L282.99,202.65 L283.57,202.73 L284.16,202.81 L284.75,202.89 L285.33,202.97 L285.92,203.05 L286.51,203.12 L287.10,203.19 L287.68,203.26 L288.27,203.33 L288.86,203.39 L289.44,203.45 L290.03,203.50 L290.62,203.56 L291.21,203.61 L291.79,203.67 L292.38,203.73 L292.97,203.78 L293.55,203.84 L294.14,203.89 L294.73,203.94 L295.32,203.99 L295.90,204.03 L296.49,204.08 L297.08,204.11 L297.66,204.14 L298.25,204.17 L298.84,204.18 L299.43,204.20 L300.01,204.20 L300.60,204.20 L301.19,204.20 L301.77,204.20 L302.36,204.20 L302.95,204.20 L303.54,204.20 L304.12,204.20 L304.71,204.20 L305.30,204.20 L305.88,204.20 L306.47,204.20 L307.06,204.20 L307.65,204.20 L308.23,204.20 L308.82,204.20 L309.41,204.20 L310.00,204.20 L310.58,204.20 L311.17,204.20 L311.76,204.20 L312.34,204.20 L312.93,204.20 L313.52,204.20 L314.11,204.20 L314.69,204.20 L315.28,204.20 L315.87,204.20 L316.45,204.20 L317.04,204.20 L317.63,204.20 L318.22,204.20 L318.80,204.20 L319.39,204.20 L319.98,204.20 L320.56,204.20 L321.15,204.19 L321.74,204.19 L322.33,204.18 L322.91,204.16 L323.50,204.15 L324.09,204.13 L324.67,204.11 L325.26,204.08 L325.85,204.06 L326.44,204.03 L327.02,204.00 L327.61,203.97 L328.20,203.93 L328.78,203.90 L329.37,203.86 L329.96,203.82 L330.55,203.78 L331.13,203.74 L331.72,203.70 L332.31,203.65 L332.89,203.61 L333.48,203.56 L334.07,203.50 L334.66,203.42 L335.24,203.33 L335.83,203.24 L336.42,203.13 L337.01,203.02 L337.59,202.89 L338.18,202.76 L338.77,202.59 L339.35,202.39 L339.94,202.16 L340.53,201.92 L341.12,201.67 L341.70,201.42 L342.29,201.18 L342.88,200.90 L343.46,200.60 L344.05,200.32 L344.64,200.06 L345.23,199.85 L345.81,199.70 L346.40,199.60" stroke="#996633" stroke-width="2.5" stroke-dasharray="6.1 1.7 1.4 1.7"/>
<path d="M53.3,203.9 H54.6" stroke="#808080" stroke-width="2.2"/>
</g>
<path d="M48,22.8 H352 M48,209.5 H352 M48.5,22.3 V210 M351.5,22.3 V210" fill="none" stroke="#a4a4a4" stroke-width="1"/>
<path d="M48.5,204.00 h3.5 M351.5,204.00 h-3.5 M48.5,193.84 h2.3 M351.5,193.84 h-2.3 M48.5,183.69 h2.3 M351.5,183.69 h-2.3 M48.5,173.53 h2.3 M351.5,173.53 h-2.3 M48.5,163.38 h2.3 M351.5,163.38 h-2.3 M48.5,153.22 h3.5 M351.5,153.22 h-3.5 M48.5,143.07 h2.3 M351.5,143.07 h-2.3 M48.5,132.92 h2.3 M351.5,132.92 h-2.3 M48.5,122.76 h2.3 M351.5,122.76 h-2.3 M48.5,112.61 h2.3 M351.5,112.61 h-2.3 M48.5,102.45 h3.5 M351.5,102.45 h-3.5 M48.5,92.29 h2.3 M351.5,92.29 h-2.3 M48.5,82.14 h2.3 M351.5,82.14 h-2.3 M48.5,71.98 h2.3 M351.5,71.98 h-2.3 M48.5,61.83 h2.3 M351.5,61.83 h-2.3 M48.5,51.68 h3.5 M351.5,51.68 h-3.5 M48.5,41.52 h2.3 M351.5,41.52 h-2.3 M48.5,31.37 h2.3 M351.5,31.37 h-2.3" stroke="#ababab" stroke-width="0.9" fill="none"/>
<path d="M54.40,209.5 v-3.6 M127.15,209.5 v-3.6 M199.90,209.5 v-3.6 M272.65,209.5 v-3.6 M345.40,209.5 v-3.6" stroke="#6a6a6a" stroke-width="0.9" fill="none"/>
<g font-family="Liberation Serif, serif" fill="#000" text-rendering="geometricPrecision">
<text x="45" y="207.60" font-size="16.5" text-anchor="end">0.0</text>
<text x="45" y="156.82" font-size="16.5" text-anchor="end">0.5</text>
<text x="45" y="106.05" font-size="16.5" text-anchor="end">1.0</text>
<text x="45" y="55.28" font-size="16.5" text-anchor="end">1.5</text>
<text x="166.2" y="12.5" font-size="16.5">tan</text>
<text transform="translate(191,12.5) scale(1.25,1.02)" font-size="16.5" font-style="italic">β</text>
<path d="M202.6,7.5 h8.4 M202.6,10.5 h8.4" stroke="#000" stroke-width="1"/>
<text x="212.3" y="12.5" font-size="16.5">2.5</text>
<text transform="translate(12,116) rotate(-90)" font-size="16.5" text-anchor="middle">R</text>
<text x="199.8" y="257.6" font-size="17.5" font-style="italic" text-anchor="middle">δ</text>
<path d="M43.50,224.5 h8.6" stroke="#000" stroke-width="1"/><text x="61.00" y="220.6" font-size="13" font-style="italic" text-anchor="middle">π</text><path d="M56.60,223.5 h8" stroke="#000" stroke-width="1"/><text x="61.40" y="236.6" font-size="13" text-anchor="middle">2</text>
<path d="M116.25,224.5 h8.6" stroke="#000" stroke-width="1"/><text x="133.75" y="220.6" font-size="13" font-style="italic" text-anchor="middle">π</text><path d="M129.35,223.5 h8" stroke="#000" stroke-width="1"/><text x="134.15" y="236.6" font-size="13" text-anchor="middle">4</text>
<text x="200.20" y="225.3" font-size="17.6" text-anchor="middle">0</text>
<text x="272.65" y="220.6" font-size="13" font-style="italic" text-anchor="middle">π</text><path d="M268.25,223.5 h8" stroke="#000" stroke-width="1"/><text x="273.05" y="236.6" font-size="13" text-anchor="middle">4</text>
<text x="345.40" y="220.6" font-size="13" font-style="italic" text-anchor="middle">π</text><path d="M341.00,223.5 h8" stroke="#000" stroke-width="1"/><text x="345.80" y="236.6" font-size="13" text-anchor="middle">2</text>
</g>
</svg>
</body></html>
